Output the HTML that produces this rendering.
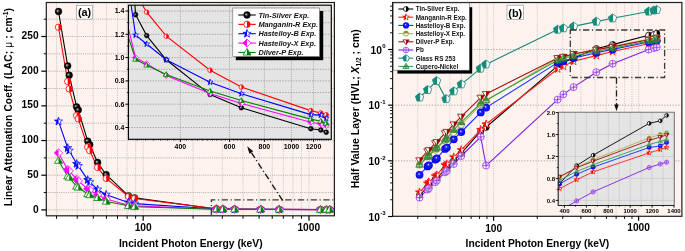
<!DOCTYPE html>
<html><head><meta charset="utf-8"><style>
html,body{margin:0;padding:0;background:#fff;}
svg{display:block;font-family:"Liberation Sans", sans-serif;will-change:transform;}
</style></head><body>
<svg width="685" height="251" viewBox="0 0 685 251">
<rect width="685" height="251" fill="#fff"/>
<defs>
<radialGradient id="gblk" cx="0.5" cy="0.5" r="0.5" fx="0.33" fy="0.38"><stop offset="0" stop-color="#e6e6e6"/><stop offset="0.3" stop-color="#505050"/><stop offset="0.6" stop-color="#080808"/><stop offset="1" stop-color="#000"/></radialGradient>
<radialGradient id="gblu" cx="0.5" cy="0.5" r="0.5" fx="0.42" fy="0.38"><stop offset="0" stop-color="#f0f0ff"/><stop offset="0.3" stop-color="#2828ff"/><stop offset="1" stop-color="#0000e8"/></radialGradient>
<clipPath id="cL"><rect x="46.3" y="2.4" width="288.1" height="212.9"/></clipPath>
<clipPath id="cLI"><rect x="128.4" y="5.2" width="202.9" height="134.1"/></clipPath>
<clipPath id="cR"><rect x="392.6" y="2.2" width="289.3" height="214.4"/></clipPath>
<clipPath id="cRI"><rect x="558.2" y="112.2" width="116.1" height="93.3"/></clipPath>
</defs>
<rect x="46.3" y="2.5" width="288.09999999999997" height="213.3" fill="#fdf2ed"/>
<line x1="56.51" y1="2.5" x2="56.51" y2="215.8" stroke="#c0c0c0" stroke-width="0.9" stroke-dasharray="1 1.15"/>
<line x1="77.22" y1="2.5" x2="77.22" y2="215.8" stroke="#c0c0c0" stroke-width="0.9" stroke-dasharray="1 1.15"/>
<line x1="93.29" y1="2.5" x2="93.29" y2="215.8" stroke="#c0c0c0" stroke-width="0.9" stroke-dasharray="1 1.15"/>
<line x1="106.42" y1="2.5" x2="106.42" y2="215.8" stroke="#c0c0c0" stroke-width="0.9" stroke-dasharray="1 1.15"/>
<line x1="117.52" y1="2.5" x2="117.52" y2="215.8" stroke="#c0c0c0" stroke-width="0.9" stroke-dasharray="1 1.15"/>
<line x1="127.13" y1="2.5" x2="127.13" y2="215.8" stroke="#c0c0c0" stroke-width="0.9" stroke-dasharray="1 1.15"/>
<line x1="135.61" y1="2.5" x2="135.61" y2="215.8" stroke="#c0c0c0" stroke-width="0.9" stroke-dasharray="1 1.15"/>
<line x1="143.2" y1="2.5" x2="143.2" y2="215.8" stroke="#c0c0c0" stroke-width="0.9" stroke-dasharray="1 1.15"/>
<line x1="193.11" y1="2.5" x2="193.11" y2="215.8" stroke="#c0c0c0" stroke-width="0.9" stroke-dasharray="1 1.15"/>
<line x1="222.31" y1="2.5" x2="222.31" y2="215.8" stroke="#c0c0c0" stroke-width="0.9" stroke-dasharray="1 1.15"/>
<line x1="243.02" y1="2.5" x2="243.02" y2="215.8" stroke="#c0c0c0" stroke-width="0.9" stroke-dasharray="1 1.15"/>
<line x1="259.09" y1="2.5" x2="259.09" y2="215.8" stroke="#c0c0c0" stroke-width="0.9" stroke-dasharray="1 1.15"/>
<line x1="272.22" y1="2.5" x2="272.22" y2="215.8" stroke="#c0c0c0" stroke-width="0.9" stroke-dasharray="1 1.15"/>
<line x1="283.32" y1="2.5" x2="283.32" y2="215.8" stroke="#c0c0c0" stroke-width="0.9" stroke-dasharray="1 1.15"/>
<line x1="292.93" y1="2.5" x2="292.93" y2="215.8" stroke="#c0c0c0" stroke-width="0.9" stroke-dasharray="1 1.15"/>
<line x1="301.41" y1="2.5" x2="301.41" y2="215.8" stroke="#c0c0c0" stroke-width="0.9" stroke-dasharray="1 1.15"/>
<line x1="309" y1="2.5" x2="309" y2="215.8" stroke="#c0c0c0" stroke-width="0.9" stroke-dasharray="1 1.15"/>
<line x1="46.3" y1="209.9" x2="334.4" y2="209.9" stroke="#a8a8a8" stroke-width="0.9" stroke-dasharray="1 1.15"/>
<line x1="46.3" y1="192.56" x2="334.4" y2="192.56" stroke="#a8a8a8" stroke-width="0.9" stroke-dasharray="1 1.15"/>
<line x1="46.3" y1="175.22" x2="334.4" y2="175.22" stroke="#a8a8a8" stroke-width="0.9" stroke-dasharray="1 1.15"/>
<line x1="46.3" y1="157.88" x2="334.4" y2="157.88" stroke="#a8a8a8" stroke-width="0.9" stroke-dasharray="1 1.15"/>
<line x1="46.3" y1="140.54" x2="334.4" y2="140.54" stroke="#a8a8a8" stroke-width="0.9" stroke-dasharray="1 1.15"/>
<line x1="46.3" y1="123.2" x2="334.4" y2="123.2" stroke="#a8a8a8" stroke-width="0.9" stroke-dasharray="1 1.15"/>
<line x1="46.3" y1="105.86" x2="334.4" y2="105.86" stroke="#a8a8a8" stroke-width="0.9" stroke-dasharray="1 1.15"/>
<line x1="46.3" y1="88.52" x2="334.4" y2="88.52" stroke="#a8a8a8" stroke-width="0.9" stroke-dasharray="1 1.15"/>
<line x1="46.3" y1="71.18" x2="334.4" y2="71.18" stroke="#a8a8a8" stroke-width="0.9" stroke-dasharray="1 1.15"/>
<line x1="46.3" y1="53.84" x2="334.4" y2="53.84" stroke="#a8a8a8" stroke-width="0.9" stroke-dasharray="1 1.15"/>
<line x1="46.3" y1="36.5" x2="334.4" y2="36.5" stroke="#a8a8a8" stroke-width="0.9" stroke-dasharray="1 1.15"/>
<line x1="46.3" y1="19.16" x2="334.4" y2="19.16" stroke="#a8a8a8" stroke-width="0.9" stroke-dasharray="1 1.15"/>
<g clip-path="url(#cL)">
<polyline fill="none" stroke="#000" stroke-width="1.1"  points="58.5,11.5 67.7,65.8 69.2,75.2 76.6,106.8 78.3,110 87.7,141.1 89.7,144.7 97.6,162.5 106.2,174.7 128.5,195.8 134.6,197.9 216.41,208.95 222.99,209.08 234.63,209.22 260.66,209.43 279.26,209.51 320.5,209.63 326.47,209.64 329.67,209.65"/>
<polyline fill="none" stroke="#ff0000" stroke-width="1.1"  points="58.5,27.2 67.7,81.5 69.2,88.9 76.6,115.5 78.3,118.9 87.7,147 89.7,150.6 97.6,167.4 106.2,178.4 128.5,196.5 134.6,198.5 216.41,208.82 222.99,208.94 234.63,209.08 260.66,209.28 279.26,209.38 320.5,209.52 326.47,209.54 329.67,209.55"/>
<polyline fill="none" stroke="#0000ff" stroke-width="1.1"  points="58.5,121.4 67.7,148 69.2,150.6 76.6,163.8 78.3,165.9 87.7,179.9 89.7,182.1 97.6,189.5 106.2,194.7 128.5,202.4 134.6,203.6 216.41,209.07 222.99,209.13 234.63,209.22 260.66,209.35 279.26,209.42 320.5,209.55 326.47,209.55 329.67,209.57"/>
<polyline fill="none" stroke="#ff00ff" stroke-width="1.1"  points="58.5,152.9 67.7,169.6 69.2,171 76.6,179.2 78.3,181 87.7,188.8 89.7,190 97.6,195 106.2,199 128.5,205.2 134.6,205.9 216.41,209.21 222.99,209.24 234.63,209.31 260.66,209.42 279.26,209.48 320.5,209.59 326.47,209.6 329.67,209.61"/>
<polyline fill="none" stroke="#008000" stroke-width="1.1"  points="58.5,160.7 67.7,176.2 69.2,177.5 76.6,186.5 78.3,187.5 87.7,194 89.7,195 97.6,197.9 106.2,201.5 128.5,205.8 134.6,206.7 216.41,209.22 222.99,209.25 234.63,209.31 260.66,209.41 279.26,209.46 320.5,209.57 326.47,209.59 329.67,209.6"/>
<circle cx="58.5" cy="11.5" r="3.4" fill="url(#gblk)" stroke="#000" stroke-width="0.4"/>
<circle cx="67.7" cy="65.8" r="3.4" fill="url(#gblk)" stroke="#000" stroke-width="0.4"/>
<circle cx="69.2" cy="75.2" r="3.4" fill="url(#gblk)" stroke="#000" stroke-width="0.4"/>
<circle cx="76.6" cy="106.8" r="3.4" fill="url(#gblk)" stroke="#000" stroke-width="0.4"/>
<circle cx="78.3" cy="110" r="3.4" fill="url(#gblk)" stroke="#000" stroke-width="0.4"/>
<circle cx="87.7" cy="141.1" r="3.4" fill="url(#gblk)" stroke="#000" stroke-width="0.4"/>
<circle cx="89.7" cy="144.7" r="3.4" fill="url(#gblk)" stroke="#000" stroke-width="0.4"/>
<circle cx="97.6" cy="162.5" r="3.4" fill="url(#gblk)" stroke="#000" stroke-width="0.4"/>
<circle cx="106.2" cy="174.7" r="3.4" fill="url(#gblk)" stroke="#000" stroke-width="0.4"/>
<circle cx="128.5" cy="195.8" r="3.4" fill="url(#gblk)" stroke="#000" stroke-width="0.4"/>
<circle cx="134.6" cy="197.9" r="3.4" fill="url(#gblk)" stroke="#000" stroke-width="0.4"/>
<circle cx="216.41" cy="208.95" r="3.4" fill="url(#gblk)" stroke="#000" stroke-width="0.4"/>
<circle cx="222.99" cy="209.08" r="3.4" fill="url(#gblk)" stroke="#000" stroke-width="0.4"/>
<circle cx="234.63" cy="209.22" r="3.4" fill="url(#gblk)" stroke="#000" stroke-width="0.4"/>
<circle cx="260.66" cy="209.43" r="3.4" fill="url(#gblk)" stroke="#000" stroke-width="0.4"/>
<circle cx="279.26" cy="209.51" r="3.4" fill="url(#gblk)" stroke="#000" stroke-width="0.4"/>
<circle cx="320.5" cy="209.63" r="3.4" fill="url(#gblk)" stroke="#000" stroke-width="0.4"/>
<circle cx="326.47" cy="209.64" r="3.4" fill="url(#gblk)" stroke="#000" stroke-width="0.4"/>
<circle cx="329.67" cy="209.65" r="3.4" fill="url(#gblk)" stroke="#000" stroke-width="0.4"/>
<circle cx="58.5" cy="27.2" r="3.2" fill="#fff"/>
<path d="M58.5,24 A3.2,3.2 0 0 1 58.5,30.4 Z" fill="#ff0000"/>
<circle cx="58.5" cy="27.2" r="3.2" fill="none" stroke="#ff0000" stroke-width="0.8"/>
<circle cx="67.7" cy="81.5" r="3.2" fill="#fff"/>
<path d="M67.7,78.3 A3.2,3.2 0 0 1 67.7,84.7 Z" fill="#ff0000"/>
<circle cx="67.7" cy="81.5" r="3.2" fill="none" stroke="#ff0000" stroke-width="0.8"/>
<circle cx="69.2" cy="88.9" r="3.2" fill="#fff"/>
<path d="M69.2,85.7 A3.2,3.2 0 0 1 69.2,92.1 Z" fill="#ff0000"/>
<circle cx="69.2" cy="88.9" r="3.2" fill="none" stroke="#ff0000" stroke-width="0.8"/>
<circle cx="76.6" cy="115.5" r="3.2" fill="#fff"/>
<path d="M76.6,112.3 A3.2,3.2 0 0 1 76.6,118.7 Z" fill="#ff0000"/>
<circle cx="76.6" cy="115.5" r="3.2" fill="none" stroke="#ff0000" stroke-width="0.8"/>
<circle cx="78.3" cy="118.9" r="3.2" fill="#fff"/>
<path d="M78.3,115.7 A3.2,3.2 0 0 1 78.3,122.1 Z" fill="#ff0000"/>
<circle cx="78.3" cy="118.9" r="3.2" fill="none" stroke="#ff0000" stroke-width="0.8"/>
<circle cx="87.7" cy="147" r="3.2" fill="#fff"/>
<path d="M87.7,143.8 A3.2,3.2 0 0 1 87.7,150.2 Z" fill="#ff0000"/>
<circle cx="87.7" cy="147" r="3.2" fill="none" stroke="#ff0000" stroke-width="0.8"/>
<circle cx="89.7" cy="150.6" r="3.2" fill="#fff"/>
<path d="M89.7,147.4 A3.2,3.2 0 0 1 89.7,153.8 Z" fill="#ff0000"/>
<circle cx="89.7" cy="150.6" r="3.2" fill="none" stroke="#ff0000" stroke-width="0.8"/>
<circle cx="97.6" cy="167.4" r="3.2" fill="#fff"/>
<path d="M97.6,164.2 A3.2,3.2 0 0 1 97.6,170.6 Z" fill="#ff0000"/>
<circle cx="97.6" cy="167.4" r="3.2" fill="none" stroke="#ff0000" stroke-width="0.8"/>
<circle cx="106.2" cy="178.4" r="3.2" fill="#fff"/>
<path d="M106.2,175.2 A3.2,3.2 0 0 1 106.2,181.6 Z" fill="#ff0000"/>
<circle cx="106.2" cy="178.4" r="3.2" fill="none" stroke="#ff0000" stroke-width="0.8"/>
<circle cx="128.5" cy="196.5" r="3.2" fill="#fff"/>
<path d="M128.5,193.3 A3.2,3.2 0 0 1 128.5,199.7 Z" fill="#ff0000"/>
<circle cx="128.5" cy="196.5" r="3.2" fill="none" stroke="#ff0000" stroke-width="0.8"/>
<circle cx="134.6" cy="198.5" r="3.2" fill="#fff"/>
<path d="M134.6,195.3 A3.2,3.2 0 0 1 134.6,201.7 Z" fill="#ff0000"/>
<circle cx="134.6" cy="198.5" r="3.2" fill="none" stroke="#ff0000" stroke-width="0.8"/>
<circle cx="216.41" cy="208.82" r="3.2" fill="#fff"/>
<path d="M216.41,205.62 A3.2,3.2 0 0 1 216.41,212.02 Z" fill="#ff0000"/>
<circle cx="216.41" cy="208.82" r="3.2" fill="none" stroke="#ff0000" stroke-width="0.8"/>
<circle cx="222.99" cy="208.94" r="3.2" fill="#fff"/>
<path d="M222.99,205.74 A3.2,3.2 0 0 1 222.99,212.14 Z" fill="#ff0000"/>
<circle cx="222.99" cy="208.94" r="3.2" fill="none" stroke="#ff0000" stroke-width="0.8"/>
<circle cx="234.63" cy="209.08" r="3.2" fill="#fff"/>
<path d="M234.63,205.88 A3.2,3.2 0 0 1 234.63,212.28 Z" fill="#ff0000"/>
<circle cx="234.63" cy="209.08" r="3.2" fill="none" stroke="#ff0000" stroke-width="0.8"/>
<circle cx="260.66" cy="209.28" r="3.2" fill="#fff"/>
<path d="M260.66,206.08 A3.2,3.2 0 0 1 260.66,212.48 Z" fill="#ff0000"/>
<circle cx="260.66" cy="209.28" r="3.2" fill="none" stroke="#ff0000" stroke-width="0.8"/>
<circle cx="279.26" cy="209.38" r="3.2" fill="#fff"/>
<path d="M279.26,206.18 A3.2,3.2 0 0 1 279.26,212.58 Z" fill="#ff0000"/>
<circle cx="279.26" cy="209.38" r="3.2" fill="none" stroke="#ff0000" stroke-width="0.8"/>
<circle cx="320.5" cy="209.52" r="3.2" fill="#fff"/>
<path d="M320.5,206.32 A3.2,3.2 0 0 1 320.5,212.72 Z" fill="#ff0000"/>
<circle cx="320.5" cy="209.52" r="3.2" fill="none" stroke="#ff0000" stroke-width="0.8"/>
<circle cx="326.47" cy="209.54" r="3.2" fill="#fff"/>
<path d="M326.47,206.34 A3.2,3.2 0 0 1 326.47,212.74 Z" fill="#ff0000"/>
<circle cx="326.47" cy="209.54" r="3.2" fill="none" stroke="#ff0000" stroke-width="0.8"/>
<circle cx="329.67" cy="209.55" r="3.2" fill="#fff"/>
<path d="M329.67,206.35 A3.2,3.2 0 0 1 329.67,212.75 Z" fill="#ff0000"/>
<circle cx="329.67" cy="209.55" r="3.2" fill="none" stroke="#ff0000" stroke-width="0.8"/>
<polygon points="58.5,117.1 59.56,119.94 62.59,120.07 60.21,121.96 61.03,124.88 58.5,123.2 55.97,124.88 56.79,121.96 54.41,120.07 57.44,119.94" fill="#fff"/>
<polygon points="58.5,123.2 55.97,124.88 56.79,121.96 54.41,120.07 57.44,119.94 58.5,117.1" fill="#0000ff"/>
<polygon points="58.5,117.1 59.56,119.94 62.59,120.07 60.21,121.96 61.03,124.88 58.5,123.2 55.97,124.88 56.79,121.96 54.41,120.07 57.44,119.94" fill="none" stroke="#0000ff" stroke-width="0.7"/>
<polygon points="67.7,143.7 68.76,146.54 71.79,146.67 69.41,148.56 70.23,151.48 67.7,149.8 65.17,151.48 65.99,148.56 63.61,146.67 66.64,146.54" fill="#fff"/>
<polygon points="67.7,149.8 65.17,151.48 65.99,148.56 63.61,146.67 66.64,146.54 67.7,143.7" fill="#0000ff"/>
<polygon points="67.7,143.7 68.76,146.54 71.79,146.67 69.41,148.56 70.23,151.48 67.7,149.8 65.17,151.48 65.99,148.56 63.61,146.67 66.64,146.54" fill="none" stroke="#0000ff" stroke-width="0.7"/>
<polygon points="69.2,146.3 70.26,149.14 73.29,149.27 70.91,151.16 71.73,154.08 69.2,152.4 66.67,154.08 67.49,151.16 65.11,149.27 68.14,149.14" fill="#fff"/>
<polygon points="69.2,152.4 66.67,154.08 67.49,151.16 65.11,149.27 68.14,149.14 69.2,146.3" fill="#0000ff"/>
<polygon points="69.2,146.3 70.26,149.14 73.29,149.27 70.91,151.16 71.73,154.08 69.2,152.4 66.67,154.08 67.49,151.16 65.11,149.27 68.14,149.14" fill="none" stroke="#0000ff" stroke-width="0.7"/>
<polygon points="76.6,159.5 77.66,162.34 80.69,162.47 78.31,164.36 79.13,167.28 76.6,165.6 74.07,167.28 74.89,164.36 72.51,162.47 75.54,162.34" fill="#fff"/>
<polygon points="76.6,165.6 74.07,167.28 74.89,164.36 72.51,162.47 75.54,162.34 76.6,159.5" fill="#0000ff"/>
<polygon points="76.6,159.5 77.66,162.34 80.69,162.47 78.31,164.36 79.13,167.28 76.6,165.6 74.07,167.28 74.89,164.36 72.51,162.47 75.54,162.34" fill="none" stroke="#0000ff" stroke-width="0.7"/>
<polygon points="78.3,161.6 79.36,164.44 82.39,164.57 80.01,166.46 80.83,169.38 78.3,167.7 75.77,169.38 76.59,166.46 74.21,164.57 77.24,164.44" fill="#fff"/>
<polygon points="78.3,167.7 75.77,169.38 76.59,166.46 74.21,164.57 77.24,164.44 78.3,161.6" fill="#0000ff"/>
<polygon points="78.3,161.6 79.36,164.44 82.39,164.57 80.01,166.46 80.83,169.38 78.3,167.7 75.77,169.38 76.59,166.46 74.21,164.57 77.24,164.44" fill="none" stroke="#0000ff" stroke-width="0.7"/>
<polygon points="87.7,175.6 88.76,178.44 91.79,178.57 89.41,180.46 90.23,183.38 87.7,181.7 85.17,183.38 85.99,180.46 83.61,178.57 86.64,178.44" fill="#fff"/>
<polygon points="87.7,181.7 85.17,183.38 85.99,180.46 83.61,178.57 86.64,178.44 87.7,175.6" fill="#0000ff"/>
<polygon points="87.7,175.6 88.76,178.44 91.79,178.57 89.41,180.46 90.23,183.38 87.7,181.7 85.17,183.38 85.99,180.46 83.61,178.57 86.64,178.44" fill="none" stroke="#0000ff" stroke-width="0.7"/>
<polygon points="89.7,177.8 90.76,180.64 93.79,180.77 91.41,182.66 92.23,185.58 89.7,183.9 87.17,185.58 87.99,182.66 85.61,180.77 88.64,180.64" fill="#fff"/>
<polygon points="89.7,183.9 87.17,185.58 87.99,182.66 85.61,180.77 88.64,180.64 89.7,177.8" fill="#0000ff"/>
<polygon points="89.7,177.8 90.76,180.64 93.79,180.77 91.41,182.66 92.23,185.58 89.7,183.9 87.17,185.58 87.99,182.66 85.61,180.77 88.64,180.64" fill="none" stroke="#0000ff" stroke-width="0.7"/>
<polygon points="97.6,185.2 98.66,188.04 101.69,188.17 99.31,190.06 100.13,192.98 97.6,191.3 95.07,192.98 95.89,190.06 93.51,188.17 96.54,188.04" fill="#fff"/>
<polygon points="97.6,191.3 95.07,192.98 95.89,190.06 93.51,188.17 96.54,188.04 97.6,185.2" fill="#0000ff"/>
<polygon points="97.6,185.2 98.66,188.04 101.69,188.17 99.31,190.06 100.13,192.98 97.6,191.3 95.07,192.98 95.89,190.06 93.51,188.17 96.54,188.04" fill="none" stroke="#0000ff" stroke-width="0.7"/>
<polygon points="106.2,190.4 107.26,193.24 110.29,193.37 107.91,195.26 108.73,198.18 106.2,196.5 103.67,198.18 104.49,195.26 102.11,193.37 105.14,193.24" fill="#fff"/>
<polygon points="106.2,196.5 103.67,198.18 104.49,195.26 102.11,193.37 105.14,193.24 106.2,190.4" fill="#0000ff"/>
<polygon points="106.2,190.4 107.26,193.24 110.29,193.37 107.91,195.26 108.73,198.18 106.2,196.5 103.67,198.18 104.49,195.26 102.11,193.37 105.14,193.24" fill="none" stroke="#0000ff" stroke-width="0.7"/>
<polygon points="128.5,198.1 129.56,200.94 132.59,201.07 130.21,202.96 131.03,205.88 128.5,204.2 125.97,205.88 126.79,202.96 124.41,201.07 127.44,200.94" fill="#fff"/>
<polygon points="128.5,204.2 125.97,205.88 126.79,202.96 124.41,201.07 127.44,200.94 128.5,198.1" fill="#0000ff"/>
<polygon points="128.5,198.1 129.56,200.94 132.59,201.07 130.21,202.96 131.03,205.88 128.5,204.2 125.97,205.88 126.79,202.96 124.41,201.07 127.44,200.94" fill="none" stroke="#0000ff" stroke-width="0.7"/>
<polygon points="134.6,199.3 135.66,202.14 138.69,202.27 136.31,204.16 137.13,207.08 134.6,205.4 132.07,207.08 132.89,204.16 130.51,202.27 133.54,202.14" fill="#fff"/>
<polygon points="134.6,205.4 132.07,207.08 132.89,204.16 130.51,202.27 133.54,202.14 134.6,199.3" fill="#0000ff"/>
<polygon points="134.6,199.3 135.66,202.14 138.69,202.27 136.31,204.16 137.13,207.08 134.6,205.4 132.07,207.08 132.89,204.16 130.51,202.27 133.54,202.14" fill="none" stroke="#0000ff" stroke-width="0.7"/>
<polygon points="216.41,204.77 217.47,207.62 220.5,207.74 218.12,209.63 218.93,212.55 216.41,210.87 213.88,212.55 214.7,209.63 212.32,207.74 215.35,207.62" fill="#fff"/>
<polygon points="216.41,210.87 213.88,212.55 214.7,209.63 212.32,207.74 215.35,207.62 216.41,204.77" fill="#0000ff"/>
<polygon points="216.41,204.77 217.47,207.62 220.5,207.74 218.12,209.63 218.93,212.55 216.41,210.87 213.88,212.55 214.7,209.63 212.32,207.74 215.35,207.62" fill="none" stroke="#0000ff" stroke-width="0.7"/>
<polygon points="222.99,204.83 224.05,207.67 227.08,207.8 224.7,209.68 225.52,212.6 222.99,210.93 220.46,212.6 221.28,209.68 218.9,207.8 221.93,207.67" fill="#fff"/>
<polygon points="222.99,210.93 220.46,212.6 221.28,209.68 218.9,207.8 221.93,207.67 222.99,204.83" fill="#0000ff"/>
<polygon points="222.99,204.83 224.05,207.67 227.08,207.8 224.7,209.68 225.52,212.6 222.99,210.93 220.46,212.6 221.28,209.68 218.9,207.8 221.93,207.67" fill="none" stroke="#0000ff" stroke-width="0.7"/>
<polygon points="234.63,204.92 235.69,207.76 238.72,207.89 236.34,209.78 237.16,212.7 234.63,211.02 232.1,212.7 232.92,209.78 230.54,207.89 233.57,207.76" fill="#fff"/>
<polygon points="234.63,211.02 232.1,212.7 232.92,209.78 230.54,207.89 233.57,207.76 234.63,204.92" fill="#0000ff"/>
<polygon points="234.63,204.92 235.69,207.76 238.72,207.89 236.34,209.78 237.16,212.7 234.63,211.02 232.1,212.7 232.92,209.78 230.54,207.89 233.57,207.76" fill="none" stroke="#0000ff" stroke-width="0.7"/>
<polygon points="260.66,205.05 261.71,207.9 264.75,208.02 262.37,209.91 263.18,212.83 260.66,211.15 258.13,212.83 258.94,209.91 256.57,208.02 259.6,207.9" fill="#fff"/>
<polygon points="260.66,211.15 258.13,212.83 258.94,209.91 256.57,208.02 259.6,207.9 260.66,205.05" fill="#0000ff"/>
<polygon points="260.66,205.05 261.71,207.9 264.75,208.02 262.37,209.91 263.18,212.83 260.66,211.15 258.13,212.83 258.94,209.91 256.57,208.02 259.6,207.9" fill="none" stroke="#0000ff" stroke-width="0.7"/>
<polygon points="279.26,205.12 280.32,207.97 283.35,208.09 280.97,209.98 281.79,212.9 279.26,211.22 276.73,212.9 277.55,209.98 275.17,208.09 278.2,207.97" fill="#fff"/>
<polygon points="279.26,211.22 276.73,212.9 277.55,209.98 275.17,208.09 278.2,207.97 279.26,205.12" fill="#0000ff"/>
<polygon points="279.26,205.12 280.32,207.97 283.35,208.09 280.97,209.98 281.79,212.9 279.26,211.22 276.73,212.9 277.55,209.98 275.17,208.09 278.2,207.97" fill="none" stroke="#0000ff" stroke-width="0.7"/>
<polygon points="320.5,205.25 321.56,208.09 324.59,208.22 322.21,210.1 323.03,213.02 320.5,211.35 317.97,213.02 318.79,210.1 316.41,208.22 319.44,208.09" fill="#fff"/>
<polygon points="320.5,211.35 317.97,213.02 318.79,210.1 316.41,208.22 319.44,208.09 320.5,205.25" fill="#0000ff"/>
<polygon points="320.5,205.25 321.56,208.09 324.59,208.22 322.21,210.1 323.03,213.02 320.5,211.35 317.97,213.02 318.79,210.1 316.41,208.22 319.44,208.09" fill="none" stroke="#0000ff" stroke-width="0.7"/>
<polygon points="326.47,205.25 327.52,208.09 330.55,208.22 328.18,210.1 328.99,213.03 326.47,211.35 323.94,213.03 324.75,210.1 322.38,208.22 325.41,208.09" fill="#fff"/>
<polygon points="326.47,211.35 323.94,213.03 324.75,210.1 322.38,208.22 325.41,208.09 326.47,205.25" fill="#0000ff"/>
<polygon points="326.47,205.25 327.52,208.09 330.55,208.22 328.18,210.1 328.99,213.03 326.47,211.35 323.94,213.03 324.75,210.1 322.38,208.22 325.41,208.09" fill="none" stroke="#0000ff" stroke-width="0.7"/>
<polygon points="329.67,205.27 330.73,208.11 333.76,208.24 331.38,210.12 332.2,213.05 329.67,211.37 327.14,213.05 327.96,210.12 325.58,208.24 328.61,208.11" fill="#fff"/>
<polygon points="329.67,211.37 327.14,213.05 327.96,210.12 325.58,208.24 328.61,208.11 329.67,205.27" fill="#0000ff"/>
<polygon points="329.67,205.27 330.73,208.11 333.76,208.24 331.38,210.12 332.2,213.05 329.67,211.37 327.14,213.05 327.96,210.12 325.58,208.24 328.61,208.11" fill="none" stroke="#0000ff" stroke-width="0.7"/>
<polygon points="58.5,148.9 62.7,152.9 58.5,156.9 54.3,152.9" fill="#fff"/>
<polygon points="58.5,148.9 58.5,156.9 54.3,152.9" fill="#ff00ff"/>
<polygon points="58.5,148.9 62.7,152.9 58.5,156.9 54.3,152.9" fill="none" stroke="#ff00ff" stroke-width="0.8"/>
<polygon points="67.7,165.6 71.9,169.6 67.7,173.6 63.5,169.6" fill="#fff"/>
<polygon points="67.7,165.6 67.7,173.6 63.5,169.6" fill="#ff00ff"/>
<polygon points="67.7,165.6 71.9,169.6 67.7,173.6 63.5,169.6" fill="none" stroke="#ff00ff" stroke-width="0.8"/>
<polygon points="69.2,167 73.4,171 69.2,175 65,171" fill="#fff"/>
<polygon points="69.2,167 69.2,175 65,171" fill="#ff00ff"/>
<polygon points="69.2,167 73.4,171 69.2,175 65,171" fill="none" stroke="#ff00ff" stroke-width="0.8"/>
<polygon points="76.6,175.2 80.8,179.2 76.6,183.2 72.4,179.2" fill="#fff"/>
<polygon points="76.6,175.2 76.6,183.2 72.4,179.2" fill="#ff00ff"/>
<polygon points="76.6,175.2 80.8,179.2 76.6,183.2 72.4,179.2" fill="none" stroke="#ff00ff" stroke-width="0.8"/>
<polygon points="78.3,177 82.5,181 78.3,185 74.1,181" fill="#fff"/>
<polygon points="78.3,177 78.3,185 74.1,181" fill="#ff00ff"/>
<polygon points="78.3,177 82.5,181 78.3,185 74.1,181" fill="none" stroke="#ff00ff" stroke-width="0.8"/>
<polygon points="87.7,184.8 91.9,188.8 87.7,192.8 83.5,188.8" fill="#fff"/>
<polygon points="87.7,184.8 87.7,192.8 83.5,188.8" fill="#ff00ff"/>
<polygon points="87.7,184.8 91.9,188.8 87.7,192.8 83.5,188.8" fill="none" stroke="#ff00ff" stroke-width="0.8"/>
<polygon points="89.7,186 93.9,190 89.7,194 85.5,190" fill="#fff"/>
<polygon points="89.7,186 89.7,194 85.5,190" fill="#ff00ff"/>
<polygon points="89.7,186 93.9,190 89.7,194 85.5,190" fill="none" stroke="#ff00ff" stroke-width="0.8"/>
<polygon points="97.6,191 101.8,195 97.6,199 93.4,195" fill="#fff"/>
<polygon points="97.6,191 97.6,199 93.4,195" fill="#ff00ff"/>
<polygon points="97.6,191 101.8,195 97.6,199 93.4,195" fill="none" stroke="#ff00ff" stroke-width="0.8"/>
<polygon points="106.2,195 110.4,199 106.2,203 102,199" fill="#fff"/>
<polygon points="106.2,195 106.2,203 102,199" fill="#ff00ff"/>
<polygon points="106.2,195 110.4,199 106.2,203 102,199" fill="none" stroke="#ff00ff" stroke-width="0.8"/>
<polygon points="128.5,201.2 132.7,205.2 128.5,209.2 124.3,205.2" fill="#fff"/>
<polygon points="128.5,201.2 128.5,209.2 124.3,205.2" fill="#ff00ff"/>
<polygon points="128.5,201.2 132.7,205.2 128.5,209.2 124.3,205.2" fill="none" stroke="#ff00ff" stroke-width="0.8"/>
<polygon points="134.6,201.9 138.8,205.9 134.6,209.9 130.4,205.9" fill="#fff"/>
<polygon points="134.6,201.9 134.6,209.9 130.4,205.9" fill="#ff00ff"/>
<polygon points="134.6,201.9 138.8,205.9 134.6,209.9 130.4,205.9" fill="none" stroke="#ff00ff" stroke-width="0.8"/>
<polygon points="216.41,205.21 220.61,209.21 216.41,213.21 212.21,209.21" fill="#fff"/>
<polygon points="216.41,205.21 216.41,213.21 212.21,209.21" fill="#ff00ff"/>
<polygon points="216.41,205.21 220.61,209.21 216.41,213.21 212.21,209.21" fill="none" stroke="#ff00ff" stroke-width="0.8"/>
<polygon points="222.99,205.24 227.19,209.24 222.99,213.24 218.79,209.24" fill="#fff"/>
<polygon points="222.99,205.24 222.99,213.24 218.79,209.24" fill="#ff00ff"/>
<polygon points="222.99,205.24 227.19,209.24 222.99,213.24 218.79,209.24" fill="none" stroke="#ff00ff" stroke-width="0.8"/>
<polygon points="234.63,205.31 238.83,209.31 234.63,213.31 230.43,209.31" fill="#fff"/>
<polygon points="234.63,205.31 234.63,213.31 230.43,209.31" fill="#ff00ff"/>
<polygon points="234.63,205.31 238.83,209.31 234.63,213.31 230.43,209.31" fill="none" stroke="#ff00ff" stroke-width="0.8"/>
<polygon points="260.66,205.42 264.86,209.42 260.66,213.42 256.46,209.42" fill="#fff"/>
<polygon points="260.66,205.42 260.66,213.42 256.46,209.42" fill="#ff00ff"/>
<polygon points="260.66,205.42 264.86,209.42 260.66,213.42 256.46,209.42" fill="none" stroke="#ff00ff" stroke-width="0.8"/>
<polygon points="279.26,205.48 283.46,209.48 279.26,213.48 275.06,209.48" fill="#fff"/>
<polygon points="279.26,205.48 279.26,213.48 275.06,209.48" fill="#ff00ff"/>
<polygon points="279.26,205.48 283.46,209.48 279.26,213.48 275.06,209.48" fill="none" stroke="#ff00ff" stroke-width="0.8"/>
<polygon points="320.5,205.59 324.7,209.59 320.5,213.59 316.3,209.59" fill="#fff"/>
<polygon points="320.5,205.59 320.5,213.59 316.3,209.59" fill="#ff00ff"/>
<polygon points="320.5,205.59 324.7,209.59 320.5,213.59 316.3,209.59" fill="none" stroke="#ff00ff" stroke-width="0.8"/>
<polygon points="326.47,205.6 330.67,209.6 326.47,213.6 322.27,209.6" fill="#fff"/>
<polygon points="326.47,205.6 326.47,213.6 322.27,209.6" fill="#ff00ff"/>
<polygon points="326.47,205.6 330.67,209.6 326.47,213.6 322.27,209.6" fill="none" stroke="#ff00ff" stroke-width="0.8"/>
<polygon points="329.67,205.61 333.87,209.61 329.67,213.61 325.47,209.61" fill="#fff"/>
<polygon points="329.67,205.61 329.67,213.61 325.47,209.61" fill="#ff00ff"/>
<polygon points="329.67,205.61 333.87,209.61 329.67,213.61 325.47,209.61" fill="none" stroke="#ff00ff" stroke-width="0.8"/>
<polygon points="58.5,156.74 62.5,163.34 54.5,163.34" fill="#fff"/>
<polygon points="58.5,156.74 62.5,163.34 58.5,163.34" fill="#008000"/>
<polygon points="58.5,156.74 62.5,163.34 54.5,163.34" fill="none" stroke="#008000" stroke-width="0.8" stroke-linejoin="miter"/>
<polygon points="67.7,172.24 71.7,178.84 63.7,178.84" fill="#fff"/>
<polygon points="67.7,172.24 71.7,178.84 67.7,178.84" fill="#008000"/>
<polygon points="67.7,172.24 71.7,178.84 63.7,178.84" fill="none" stroke="#008000" stroke-width="0.8" stroke-linejoin="miter"/>
<polygon points="69.2,173.54 73.2,180.14 65.2,180.14" fill="#fff"/>
<polygon points="69.2,173.54 73.2,180.14 69.2,180.14" fill="#008000"/>
<polygon points="69.2,173.54 73.2,180.14 65.2,180.14" fill="none" stroke="#008000" stroke-width="0.8" stroke-linejoin="miter"/>
<polygon points="76.6,182.54 80.6,189.14 72.6,189.14" fill="#fff"/>
<polygon points="76.6,182.54 80.6,189.14 76.6,189.14" fill="#008000"/>
<polygon points="76.6,182.54 80.6,189.14 72.6,189.14" fill="none" stroke="#008000" stroke-width="0.8" stroke-linejoin="miter"/>
<polygon points="78.3,183.54 82.3,190.14 74.3,190.14" fill="#fff"/>
<polygon points="78.3,183.54 82.3,190.14 78.3,190.14" fill="#008000"/>
<polygon points="78.3,183.54 82.3,190.14 74.3,190.14" fill="none" stroke="#008000" stroke-width="0.8" stroke-linejoin="miter"/>
<polygon points="87.7,190.04 91.7,196.64 83.7,196.64" fill="#fff"/>
<polygon points="87.7,190.04 91.7,196.64 87.7,196.64" fill="#008000"/>
<polygon points="87.7,190.04 91.7,196.64 83.7,196.64" fill="none" stroke="#008000" stroke-width="0.8" stroke-linejoin="miter"/>
<polygon points="89.7,191.04 93.7,197.64 85.7,197.64" fill="#fff"/>
<polygon points="89.7,191.04 93.7,197.64 89.7,197.64" fill="#008000"/>
<polygon points="89.7,191.04 93.7,197.64 85.7,197.64" fill="none" stroke="#008000" stroke-width="0.8" stroke-linejoin="miter"/>
<polygon points="97.6,193.94 101.6,200.54 93.6,200.54" fill="#fff"/>
<polygon points="97.6,193.94 101.6,200.54 97.6,200.54" fill="#008000"/>
<polygon points="97.6,193.94 101.6,200.54 93.6,200.54" fill="none" stroke="#008000" stroke-width="0.8" stroke-linejoin="miter"/>
<polygon points="106.2,197.54 110.2,204.14 102.2,204.14" fill="#fff"/>
<polygon points="106.2,197.54 110.2,204.14 106.2,204.14" fill="#008000"/>
<polygon points="106.2,197.54 110.2,204.14 102.2,204.14" fill="none" stroke="#008000" stroke-width="0.8" stroke-linejoin="miter"/>
<polygon points="128.5,201.84 132.5,208.44 124.5,208.44" fill="#fff"/>
<polygon points="128.5,201.84 132.5,208.44 128.5,208.44" fill="#008000"/>
<polygon points="128.5,201.84 132.5,208.44 124.5,208.44" fill="none" stroke="#008000" stroke-width="0.8" stroke-linejoin="miter"/>
<polygon points="134.6,202.74 138.6,209.34 130.6,209.34" fill="#fff"/>
<polygon points="134.6,202.74 138.6,209.34 134.6,209.34" fill="#008000"/>
<polygon points="134.6,202.74 138.6,209.34 130.6,209.34" fill="none" stroke="#008000" stroke-width="0.8" stroke-linejoin="miter"/>
<polygon points="216.41,205.26 220.41,211.86 212.41,211.86" fill="#fff"/>
<polygon points="216.41,205.26 220.41,211.86 216.41,211.86" fill="#008000"/>
<polygon points="216.41,205.26 220.41,211.86 212.41,211.86" fill="none" stroke="#008000" stroke-width="0.8" stroke-linejoin="miter"/>
<polygon points="222.99,205.29 226.99,211.89 218.99,211.89" fill="#fff"/>
<polygon points="222.99,205.29 226.99,211.89 222.99,211.89" fill="#008000"/>
<polygon points="222.99,205.29 226.99,211.89 218.99,211.89" fill="none" stroke="#008000" stroke-width="0.8" stroke-linejoin="miter"/>
<polygon points="234.63,205.35 238.63,211.95 230.63,211.95" fill="#fff"/>
<polygon points="234.63,205.35 238.63,211.95 234.63,211.95" fill="#008000"/>
<polygon points="234.63,205.35 238.63,211.95 230.63,211.95" fill="none" stroke="#008000" stroke-width="0.8" stroke-linejoin="miter"/>
<polygon points="260.66,205.45 264.66,212.05 256.66,212.05" fill="#fff"/>
<polygon points="260.66,205.45 264.66,212.05 260.66,212.05" fill="#008000"/>
<polygon points="260.66,205.45 264.66,212.05 256.66,212.05" fill="none" stroke="#008000" stroke-width="0.8" stroke-linejoin="miter"/>
<polygon points="279.26,205.5 283.26,212.1 275.26,212.1" fill="#fff"/>
<polygon points="279.26,205.5 283.26,212.1 279.26,212.1" fill="#008000"/>
<polygon points="279.26,205.5 283.26,212.1 275.26,212.1" fill="none" stroke="#008000" stroke-width="0.8" stroke-linejoin="miter"/>
<polygon points="320.5,205.61 324.5,212.21 316.5,212.21" fill="#fff"/>
<polygon points="320.5,205.61 324.5,212.21 320.5,212.21" fill="#008000"/>
<polygon points="320.5,205.61 324.5,212.21 316.5,212.21" fill="none" stroke="#008000" stroke-width="0.8" stroke-linejoin="miter"/>
<polygon points="326.47,205.63 330.47,212.23 322.47,212.23" fill="#fff"/>
<polygon points="326.47,205.63 330.47,212.23 326.47,212.23" fill="#008000"/>
<polygon points="326.47,205.63 330.47,212.23 322.47,212.23" fill="none" stroke="#008000" stroke-width="0.8" stroke-linejoin="miter"/>
<polygon points="329.67,205.64 333.67,212.24 325.67,212.24" fill="#fff"/>
<polygon points="329.67,205.64 333.67,212.24 329.67,212.24" fill="#008000"/>
<polygon points="329.67,205.64 333.67,212.24 325.67,212.24" fill="none" stroke="#008000" stroke-width="0.8" stroke-linejoin="miter"/>
</g>
<path d="M211.4,215 L211.4,199.9 L334,199.9" fill="none" stroke="#3a3a3a" stroke-width="1.4" stroke-dasharray="6.3 2.6 1.2 2.6"/>
<line x1="282.6" y1="200.5" x2="249.7" y2="150.1" stroke="#1a1a1a" stroke-width="1.4" stroke-dasharray="6.3 2.6 1.2 2.6"/>
<polygon points="247.2,146.2 253.22,151.23 249.37,153.74" fill="#111"/>
<rect x="46.3" y="2.5" width="288.09999999999997" height="213.3" fill="none" stroke="#1e1e1e" stroke-width="1.2"/>
<line x1="41.3" y1="209.9" x2="46.3" y2="209.9" stroke="#000" stroke-width="1.2" />
<text x="38.6" y="212.5" font-size="10.2" font-weight="bold" font-style="normal" text-anchor="end" fill="#000" >0</text>
<line x1="41.3" y1="175.22" x2="46.3" y2="175.22" stroke="#000" stroke-width="1.2" />
<text x="38.6" y="177.82" font-size="10.2" font-weight="bold" font-style="normal" text-anchor="end" fill="#000" >50</text>
<line x1="41.3" y1="140.54" x2="46.3" y2="140.54" stroke="#000" stroke-width="1.2" />
<text x="38.6" y="143.14" font-size="10.2" font-weight="bold" font-style="normal" text-anchor="end" fill="#000" >100</text>
<line x1="41.3" y1="105.86" x2="46.3" y2="105.86" stroke="#000" stroke-width="1.2" />
<text x="38.6" y="108.46" font-size="10.2" font-weight="bold" font-style="normal" text-anchor="end" fill="#000" >150</text>
<line x1="41.3" y1="71.18" x2="46.3" y2="71.18" stroke="#000" stroke-width="1.2" />
<text x="38.6" y="73.78" font-size="10.2" font-weight="bold" font-style="normal" text-anchor="end" fill="#000" >200</text>
<line x1="41.3" y1="36.5" x2="46.3" y2="36.5" stroke="#000" stroke-width="1.2" />
<text x="38.6" y="39.1" font-size="10.2" font-weight="bold" font-style="normal" text-anchor="end" fill="#000" >250</text>
<line x1="43.8" y1="192.56" x2="46.3" y2="192.56" stroke="#000" stroke-width="1" />
<line x1="43.8" y1="157.88" x2="46.3" y2="157.88" stroke="#000" stroke-width="1" />
<line x1="43.8" y1="123.2" x2="46.3" y2="123.2" stroke="#000" stroke-width="1" />
<line x1="43.8" y1="88.52" x2="46.3" y2="88.52" stroke="#000" stroke-width="1" />
<line x1="43.8" y1="53.84" x2="46.3" y2="53.84" stroke="#000" stroke-width="1" />
<line x1="43.8" y1="19.16" x2="46.3" y2="19.16" stroke="#000" stroke-width="1" />
<line x1="143.2" y1="215.8" x2="143.2" y2="220.8" stroke="#000" stroke-width="1.2" />
<line x1="309" y1="215.8" x2="309" y2="220.8" stroke="#000" stroke-width="1.2" />
<line x1="56.51" y1="215.8" x2="56.51" y2="218.8" stroke="#000" stroke-width="1" />
<line x1="77.22" y1="215.8" x2="77.22" y2="218.8" stroke="#000" stroke-width="1" />
<line x1="93.29" y1="215.8" x2="93.29" y2="218.8" stroke="#000" stroke-width="1" />
<line x1="106.42" y1="215.8" x2="106.42" y2="218.8" stroke="#000" stroke-width="1" />
<line x1="117.52" y1="215.8" x2="117.52" y2="218.8" stroke="#000" stroke-width="1" />
<line x1="127.13" y1="215.8" x2="127.13" y2="218.8" stroke="#000" stroke-width="1" />
<line x1="135.61" y1="215.8" x2="135.61" y2="218.8" stroke="#000" stroke-width="1" />
<line x1="193.11" y1="215.8" x2="193.11" y2="218.8" stroke="#000" stroke-width="1" />
<line x1="222.31" y1="215.8" x2="222.31" y2="218.8" stroke="#000" stroke-width="1" />
<line x1="243.02" y1="215.8" x2="243.02" y2="218.8" stroke="#000" stroke-width="1" />
<line x1="259.09" y1="215.8" x2="259.09" y2="218.8" stroke="#000" stroke-width="1" />
<line x1="272.22" y1="215.8" x2="272.22" y2="218.8" stroke="#000" stroke-width="1" />
<line x1="283.32" y1="215.8" x2="283.32" y2="218.8" stroke="#000" stroke-width="1" />
<line x1="292.93" y1="215.8" x2="292.93" y2="218.8" stroke="#000" stroke-width="1" />
<line x1="301.41" y1="215.8" x2="301.41" y2="218.8" stroke="#000" stroke-width="1" />
<text x="143.2" y="230.6" font-size="10.2" font-weight="bold" font-style="normal" text-anchor="middle" fill="#000" >100</text>
<text x="308.8" y="230.6" font-size="10.2" font-weight="bold" font-style="normal" text-anchor="middle" fill="#000" >1000</text>
<text x="190.8" y="246.8" font-size="10.3" font-weight="bold" font-style="normal" text-anchor="middle" fill="#000" >Incident Photon Energy (keV)</text>
<text transform="translate(12.1,107.1) rotate(-90)" font-size="10.2" letter-spacing="0.12" font-weight="bold" text-anchor="middle">Linear Attenuation Coeff. (LAC; <tspan font-weight="normal">μ</tspan> ; cm<tspan font-size="6.5" dy="-4">-1</tspan><tspan dy="4">)</tspan></text>
<rect x="128.4" y="5.2" width="202.9" height="134.10000000000002" fill="#e4e4e4"/>
<line x1="128.4" y1="127.5" x2="331.3" y2="127.5" stroke="#a0a0a0" stroke-width="0.9" stroke-dasharray="1.4 1.3"/>
<line x1="128.4" y1="115.85" x2="331.3" y2="115.85" stroke="#a0a0a0" stroke-width="0.9" stroke-dasharray="1.4 1.3"/>
<line x1="128.4" y1="104.2" x2="331.3" y2="104.2" stroke="#a0a0a0" stroke-width="0.9" stroke-dasharray="1.4 1.3"/>
<line x1="128.4" y1="92.55" x2="331.3" y2="92.55" stroke="#a0a0a0" stroke-width="0.9" stroke-dasharray="1.4 1.3"/>
<line x1="128.4" y1="80.9" x2="331.3" y2="80.9" stroke="#a0a0a0" stroke-width="0.9" stroke-dasharray="1.4 1.3"/>
<line x1="128.4" y1="69.25" x2="331.3" y2="69.25" stroke="#a0a0a0" stroke-width="0.9" stroke-dasharray="1.4 1.3"/>
<line x1="128.4" y1="57.6" x2="331.3" y2="57.6" stroke="#a0a0a0" stroke-width="0.9" stroke-dasharray="1.4 1.3"/>
<line x1="128.4" y1="45.95" x2="331.3" y2="45.95" stroke="#a0a0a0" stroke-width="0.9" stroke-dasharray="1.4 1.3"/>
<line x1="128.4" y1="34.3" x2="331.3" y2="34.3" stroke="#a0a0a0" stroke-width="0.9" stroke-dasharray="1.4 1.3"/>
<line x1="128.4" y1="22.65" x2="331.3" y2="22.65" stroke="#a0a0a0" stroke-width="0.9" stroke-dasharray="1.4 1.3"/>
<line x1="128.4" y1="11" x2="331.3" y2="11" stroke="#a0a0a0" stroke-width="0.9" stroke-dasharray="1.4 1.3"/>
<line x1="180.4" y1="5.2" x2="180.4" y2="139.3" stroke="#a0a0a0" stroke-width="0.9" stroke-dasharray="1 1.15"/>
<line x1="229.53" y1="5.2" x2="229.53" y2="139.3" stroke="#a0a0a0" stroke-width="0.9" stroke-dasharray="1 1.15"/>
<line x1="264.39" y1="5.2" x2="264.39" y2="139.3" stroke="#a0a0a0" stroke-width="0.9" stroke-dasharray="1 1.15"/>
<line x1="291.43" y1="5.2" x2="291.43" y2="139.3" stroke="#a0a0a0" stroke-width="0.9" stroke-dasharray="1 1.15"/>
<line x1="313.52" y1="5.2" x2="313.52" y2="139.3" stroke="#a0a0a0" stroke-width="0.9" stroke-dasharray="1 1.15"/>
<g clip-path="url(#cLI)">
<polyline fill="none" stroke="#000" stroke-width="1.1"  points="-130.1,-33150.01 -114.62,-24029.55 -112.1,-22450.68 -99.65,-17143.01 -96.79,-16605.53 -80.97,-11381.84 -77.6,-10777.17 -64.31,-7787.41 -49.84,-5738.24 -12.31,-2194.2 -2.05,-1841.47 135.61,14.7 146.69,35.6 166.28,59.8 210.07,94.6 241.38,107.8 310.78,128.7 320.82,130 326.21,132.3"/>
<polyline fill="none" stroke="#ff0000" stroke-width="1.1"  points="-130.1,-30512.97 -114.62,-21392.51 -112.1,-20149.57 -99.65,-15681.72 -96.79,-15110.65 -80.97,-10390.85 -77.6,-9786.18 -64.31,-6964.38 -49.84,-5116.77 -12.31,-2076.62 -2.05,-1740.69 135.61,-6.48 146.69,12.2 166.28,36.2 210.07,70.2 241.38,87 310.78,110.6 320.82,113 326.21,114.8"/>
<polyline fill="none" stroke="#0000ff" stroke-width="1.1"  points="-130.1,-14690.74 -114.62,-10222.89 -112.1,-9786.18 -99.65,-7569.05 -96.79,-7216.33 -80.97,-4864.83 -77.6,-4495.31 -64.31,-3252.37 -49.84,-2378.96 -12.31,-1085.63 -2.05,-884.07 135.61,35.1 146.69,44 166.28,59.8 210.07,82.2 241.38,93.7 310.78,114.6 320.82,115.1 326.21,118.3"/>
<polyline fill="none" stroke="#ff00ff" stroke-width="1.1"  points="-130.1,-9399.86 -114.62,-6594.86 -112.1,-6359.71 -99.65,-4982.4 -96.79,-4680.07 -80.97,-3369.95 -77.6,-3168.39 -64.31,-2328.57 -49.84,-1656.71 -12.31,-615.33 -2.05,-497.76 135.61,57.7 146.69,63.8 166.28,75.6 210.07,93.5 241.38,103.5 310.78,122.3 320.82,123.9 326.21,125.5"/>
<polyline fill="none" stroke="#008000" stroke-width="1.1"  points="-130.1,-8089.74 -114.62,-5486.3 -112.1,-5267.94 -99.65,-3756.26 -96.79,-3588.3 -80.97,-2496.53 -77.6,-2328.57 -64.31,-1841.47 -49.84,-1236.8 -12.31,-514.55 -2.05,-363.39 135.61,59.3 146.69,65.2 166.28,74.5 210.07,91.1 241.38,100.5 310.78,119.1 320.82,121.2 326.21,123.1"/>
<circle cx="135.61" cy="14.7" r="2.448" fill="url(#gblk)" stroke="#000" stroke-width="0.4"/>
<circle cx="146.69" cy="35.6" r="2.448" fill="url(#gblk)" stroke="#000" stroke-width="0.4"/>
<circle cx="166.28" cy="59.8" r="2.448" fill="url(#gblk)" stroke="#000" stroke-width="0.4"/>
<circle cx="210.07" cy="94.6" r="2.448" fill="url(#gblk)" stroke="#000" stroke-width="0.4"/>
<circle cx="241.38" cy="107.8" r="2.448" fill="url(#gblk)" stroke="#000" stroke-width="0.4"/>
<circle cx="310.78" cy="128.7" r="2.448" fill="url(#gblk)" stroke="#000" stroke-width="0.4"/>
<circle cx="320.82" cy="130" r="2.448" fill="url(#gblk)" stroke="#000" stroke-width="0.4"/>
<circle cx="326.21" cy="132.3" r="2.448" fill="url(#gblk)" stroke="#000" stroke-width="0.4"/>
<circle cx="135.61" cy="-6.48" r="2.304" fill="#fff"/>
<path d="M135.61,-8.78 A2.304,2.304 0 0 1 135.61,-4.17 Z" fill="#ff0000"/>
<circle cx="135.61" cy="-6.48" r="2.304" fill="none" stroke="#ff0000" stroke-width="0.8"/>
<circle cx="146.69" cy="12.2" r="2.304" fill="#fff"/>
<path d="M146.69,9.9 A2.304,2.304 0 0 1 146.69,14.5 Z" fill="#ff0000"/>
<circle cx="146.69" cy="12.2" r="2.304" fill="none" stroke="#ff0000" stroke-width="0.8"/>
<circle cx="166.28" cy="36.2" r="2.304" fill="#fff"/>
<path d="M166.28,33.9 A2.304,2.304 0 0 1 166.28,38.5 Z" fill="#ff0000"/>
<circle cx="166.28" cy="36.2" r="2.304" fill="none" stroke="#ff0000" stroke-width="0.8"/>
<circle cx="210.07" cy="70.2" r="2.304" fill="#fff"/>
<path d="M210.07,67.9 A2.304,2.304 0 0 1 210.07,72.5 Z" fill="#ff0000"/>
<circle cx="210.07" cy="70.2" r="2.304" fill="none" stroke="#ff0000" stroke-width="0.8"/>
<circle cx="241.38" cy="87" r="2.304" fill="#fff"/>
<path d="M241.38,84.7 A2.304,2.304 0 0 1 241.38,89.3 Z" fill="#ff0000"/>
<circle cx="241.38" cy="87" r="2.304" fill="none" stroke="#ff0000" stroke-width="0.8"/>
<circle cx="310.78" cy="110.6" r="2.304" fill="#fff"/>
<path d="M310.78,108.3 A2.304,2.304 0 0 1 310.78,112.9 Z" fill="#ff0000"/>
<circle cx="310.78" cy="110.6" r="2.304" fill="none" stroke="#ff0000" stroke-width="0.8"/>
<circle cx="320.82" cy="113" r="2.304" fill="#fff"/>
<path d="M320.82,110.7 A2.304,2.304 0 0 1 320.82,115.3 Z" fill="#ff0000"/>
<circle cx="320.82" cy="113" r="2.304" fill="none" stroke="#ff0000" stroke-width="0.8"/>
<circle cx="326.21" cy="114.8" r="2.304" fill="#fff"/>
<path d="M326.21,112.5 A2.304,2.304 0 0 1 326.21,117.1 Z" fill="#ff0000"/>
<circle cx="326.21" cy="114.8" r="2.304" fill="none" stroke="#ff0000" stroke-width="0.8"/>
<polygon points="135.61,32 136.38,34.05 138.56,34.14 136.85,35.5 137.43,37.6 135.61,36.4 133.79,37.6 134.38,35.5 132.67,34.14 134.85,34.05" fill="#fff"/>
<polygon points="135.61,36.4 133.79,37.6 134.38,35.5 132.67,34.14 134.85,34.05 135.61,32" fill="#0000ff"/>
<polygon points="135.61,32 136.38,34.05 138.56,34.14 136.85,35.5 137.43,37.6 135.61,36.4 133.79,37.6 134.38,35.5 132.67,34.14 134.85,34.05" fill="none" stroke="#0000ff" stroke-width="0.7"/>
<polygon points="146.69,40.9 147.45,42.95 149.63,43.04 147.92,44.4 148.51,46.5 146.69,45.3 144.87,46.5 145.46,44.4 143.74,43.04 145.93,42.95" fill="#fff"/>
<polygon points="146.69,45.3 144.87,46.5 145.46,44.4 143.74,43.04 145.93,42.95 146.69,40.9" fill="#0000ff"/>
<polygon points="146.69,40.9 147.45,42.95 149.63,43.04 147.92,44.4 148.51,46.5 146.69,45.3 144.87,46.5 145.46,44.4 143.74,43.04 145.93,42.95" fill="none" stroke="#0000ff" stroke-width="0.7"/>
<polygon points="166.28,56.7 167.04,58.75 169.22,58.84 167.51,60.2 168.1,62.3 166.28,61.1 164.46,62.3 165.05,60.2 163.34,58.84 165.52,58.75" fill="#fff"/>
<polygon points="166.28,61.1 164.46,62.3 165.05,60.2 163.34,58.84 165.52,58.75 166.28,56.7" fill="#0000ff"/>
<polygon points="166.28,56.7 167.04,58.75 169.22,58.84 167.51,60.2 168.1,62.3 166.28,61.1 164.46,62.3 165.05,60.2 163.34,58.84 165.52,58.75" fill="none" stroke="#0000ff" stroke-width="0.7"/>
<polygon points="210.07,79.1 210.84,81.15 213.02,81.24 211.31,82.6 211.89,84.7 210.07,83.5 208.25,84.7 208.84,82.6 207.13,81.24 209.31,81.15" fill="#fff"/>
<polygon points="210.07,83.5 208.25,84.7 208.84,82.6 207.13,81.24 209.31,81.15 210.07,79.1" fill="#0000ff"/>
<polygon points="210.07,79.1 210.84,81.15 213.02,81.24 211.31,82.6 211.89,84.7 210.07,83.5 208.25,84.7 208.84,82.6 207.13,81.24 209.31,81.15" fill="none" stroke="#0000ff" stroke-width="0.7"/>
<polygon points="241.38,90.6 242.14,92.65 244.33,92.74 242.61,94.1 243.2,96.2 241.38,95 239.56,96.2 240.15,94.1 238.44,92.74 240.62,92.65" fill="#fff"/>
<polygon points="241.38,95 239.56,96.2 240.15,94.1 238.44,92.74 240.62,92.65 241.38,90.6" fill="#0000ff"/>
<polygon points="241.38,90.6 242.14,92.65 244.33,92.74 242.61,94.1 243.2,96.2 241.38,95 239.56,96.2 240.15,94.1 238.44,92.74 240.62,92.65" fill="none" stroke="#0000ff" stroke-width="0.7"/>
<polygon points="310.78,111.5 311.54,113.55 313.72,113.64 312.01,115 312.6,117.1 310.78,115.9 308.96,117.1 309.55,115 307.84,113.64 310.02,113.55" fill="#fff"/>
<polygon points="310.78,115.9 308.96,117.1 309.55,115 307.84,113.64 310.02,113.55 310.78,111.5" fill="#0000ff"/>
<polygon points="310.78,111.5 311.54,113.55 313.72,113.64 312.01,115 312.6,117.1 310.78,115.9 308.96,117.1 309.55,115 307.84,113.64 310.02,113.55" fill="none" stroke="#0000ff" stroke-width="0.7"/>
<polygon points="320.82,112 321.58,114.05 323.76,114.14 322.05,115.5 322.63,117.6 320.82,116.4 319,117.6 319.58,115.5 317.87,114.14 320.05,114.05" fill="#fff"/>
<polygon points="320.82,116.4 319,117.6 319.58,115.5 317.87,114.14 320.05,114.05 320.82,112" fill="#0000ff"/>
<polygon points="320.82,112 321.58,114.05 323.76,114.14 322.05,115.5 322.63,117.6 320.82,116.4 319,117.6 319.58,115.5 317.87,114.14 320.05,114.05" fill="none" stroke="#0000ff" stroke-width="0.7"/>
<polygon points="326.21,115.2 326.97,117.25 329.15,117.34 327.44,118.7 328.03,120.8 326.21,119.6 324.39,120.8 324.97,118.7 323.26,117.34 325.45,117.25" fill="#fff"/>
<polygon points="326.21,119.6 324.39,120.8 324.97,118.7 323.26,117.34 325.45,117.25 326.21,115.2" fill="#0000ff"/>
<polygon points="326.21,115.2 326.97,117.25 329.15,117.34 327.44,118.7 328.03,120.8 326.21,119.6 324.39,120.8 324.97,118.7 323.26,117.34 325.45,117.25" fill="none" stroke="#0000ff" stroke-width="0.7"/>
<polygon points="135.61,54.82 138.64,57.7 135.61,60.58 132.59,57.7" fill="#fff"/>
<polygon points="135.61,54.82 135.61,60.58 132.59,57.7" fill="#ff00ff"/>
<polygon points="135.61,54.82 138.64,57.7 135.61,60.58 132.59,57.7" fill="none" stroke="#ff00ff" stroke-width="0.8"/>
<polygon points="146.69,60.92 149.71,63.8 146.69,66.68 143.66,63.8" fill="#fff"/>
<polygon points="146.69,60.92 146.69,66.68 143.66,63.8" fill="#ff00ff"/>
<polygon points="146.69,60.92 149.71,63.8 146.69,66.68 143.66,63.8" fill="none" stroke="#ff00ff" stroke-width="0.8"/>
<polygon points="166.28,72.72 169.3,75.6 166.28,78.48 163.26,75.6" fill="#fff"/>
<polygon points="166.28,72.72 166.28,78.48 163.26,75.6" fill="#ff00ff"/>
<polygon points="166.28,72.72 169.3,75.6 166.28,78.48 163.26,75.6" fill="none" stroke="#ff00ff" stroke-width="0.8"/>
<polygon points="210.07,90.62 213.1,93.5 210.07,96.38 207.05,93.5" fill="#fff"/>
<polygon points="210.07,90.62 210.07,96.38 207.05,93.5" fill="#ff00ff"/>
<polygon points="210.07,90.62 213.1,93.5 210.07,96.38 207.05,93.5" fill="none" stroke="#ff00ff" stroke-width="0.8"/>
<polygon points="241.38,100.62 244.41,103.5 241.38,106.38 238.36,103.5" fill="#fff"/>
<polygon points="241.38,100.62 241.38,106.38 238.36,103.5" fill="#ff00ff"/>
<polygon points="241.38,100.62 244.41,103.5 241.38,106.38 238.36,103.5" fill="none" stroke="#ff00ff" stroke-width="0.8"/>
<polygon points="310.78,119.42 313.8,122.3 310.78,125.18 307.76,122.3" fill="#fff"/>
<polygon points="310.78,119.42 310.78,125.18 307.76,122.3" fill="#ff00ff"/>
<polygon points="310.78,119.42 313.8,122.3 310.78,125.18 307.76,122.3" fill="none" stroke="#ff00ff" stroke-width="0.8"/>
<polygon points="320.82,121.02 323.84,123.9 320.82,126.78 317.79,123.9" fill="#fff"/>
<polygon points="320.82,121.02 320.82,126.78 317.79,123.9" fill="#ff00ff"/>
<polygon points="320.82,121.02 323.84,123.9 320.82,126.78 317.79,123.9" fill="none" stroke="#ff00ff" stroke-width="0.8"/>
<polygon points="326.21,122.62 329.23,125.5 326.21,128.38 323.18,125.5" fill="#fff"/>
<polygon points="326.21,122.62 326.21,128.38 323.18,125.5" fill="#ff00ff"/>
<polygon points="326.21,122.62 329.23,125.5 326.21,128.38 323.18,125.5" fill="none" stroke="#ff00ff" stroke-width="0.8"/>
<polygon points="135.61,56.45 138.49,61.2 132.73,61.2" fill="#fff"/>
<polygon points="135.61,56.45 138.49,61.2 135.61,61.2" fill="#008000"/>
<polygon points="135.61,56.45 138.49,61.2 132.73,61.2" fill="none" stroke="#008000" stroke-width="0.8" stroke-linejoin="miter"/>
<polygon points="146.69,62.35 149.57,67.1 143.81,67.1" fill="#fff"/>
<polygon points="146.69,62.35 149.57,67.1 146.69,67.1" fill="#008000"/>
<polygon points="146.69,62.35 149.57,67.1 143.81,67.1" fill="none" stroke="#008000" stroke-width="0.8" stroke-linejoin="miter"/>
<polygon points="166.28,71.65 169.16,76.4 163.4,76.4" fill="#fff"/>
<polygon points="166.28,71.65 169.16,76.4 166.28,76.4" fill="#008000"/>
<polygon points="166.28,71.65 169.16,76.4 163.4,76.4" fill="none" stroke="#008000" stroke-width="0.8" stroke-linejoin="miter"/>
<polygon points="210.07,88.25 212.95,93 207.19,93" fill="#fff"/>
<polygon points="210.07,88.25 212.95,93 210.07,93" fill="#008000"/>
<polygon points="210.07,88.25 212.95,93 207.19,93" fill="none" stroke="#008000" stroke-width="0.8" stroke-linejoin="miter"/>
<polygon points="241.38,97.65 244.26,102.4 238.5,102.4" fill="#fff"/>
<polygon points="241.38,97.65 244.26,102.4 241.38,102.4" fill="#008000"/>
<polygon points="241.38,97.65 244.26,102.4 238.5,102.4" fill="none" stroke="#008000" stroke-width="0.8" stroke-linejoin="miter"/>
<polygon points="310.78,116.25 313.66,121 307.9,121" fill="#fff"/>
<polygon points="310.78,116.25 313.66,121 310.78,121" fill="#008000"/>
<polygon points="310.78,116.25 313.66,121 307.9,121" fill="none" stroke="#008000" stroke-width="0.8" stroke-linejoin="miter"/>
<polygon points="320.82,118.35 323.7,123.1 317.94,123.1" fill="#fff"/>
<polygon points="320.82,118.35 323.7,123.1 320.82,123.1" fill="#008000"/>
<polygon points="320.82,118.35 323.7,123.1 317.94,123.1" fill="none" stroke="#008000" stroke-width="0.8" stroke-linejoin="miter"/>
<polygon points="326.21,120.25 329.09,125 323.33,125" fill="#fff"/>
<polygon points="326.21,120.25 329.09,125 326.21,125" fill="#008000"/>
<polygon points="326.21,120.25 329.09,125 323.33,125" fill="none" stroke="#008000" stroke-width="0.8" stroke-linejoin="miter"/>
</g>
<rect x="235.8" y="11" width="87.4" height="49.2" fill="#000"/>
<rect x="232.8" y="8" width="86.8" height="48.6" fill="#fff" stroke="#666" stroke-width="0.6"/>
<line x1="238.3" y1="15" x2="255.7" y2="15" stroke="#000" stroke-width="1.1" />
<circle cx="247" cy="15" r="3.4" fill="url(#gblk)" stroke="#000" stroke-width="0.4"/>
<text x="258.4" y="17.6" font-size="7.35" font-weight="bold" font-style="italic" text-anchor="start" fill="#111" >Tin-Silver Exp.</text>
<line x1="238.3" y1="24.35" x2="255.7" y2="24.35" stroke="#ff0000" stroke-width="1.1" />
<circle cx="247" cy="24.35" r="3.2" fill="#fff"/>
<path d="M247,21.15 A3.2,3.2 0 0 1 247,27.55 Z" fill="#ff0000"/>
<circle cx="247" cy="24.35" r="3.2" fill="none" stroke="#ff0000" stroke-width="0.8"/>
<text x="258.4" y="26.95" font-size="7.35" font-weight="bold" font-style="italic" text-anchor="start" fill="#111" >Manganin-R Exp.</text>
<line x1="238.3" y1="33.7" x2="255.7" y2="33.7" stroke="#0000ff" stroke-width="1.1" />
<polygon points="247,29.4 248.06,32.24 251.09,32.37 248.71,34.26 249.53,37.18 247,35.5 244.47,37.18 245.29,34.26 242.91,32.37 245.94,32.24" fill="#fff"/>
<polygon points="247,35.5 244.47,37.18 245.29,34.26 242.91,32.37 245.94,32.24 247,29.4" fill="#0000ff"/>
<polygon points="247,29.4 248.06,32.24 251.09,32.37 248.71,34.26 249.53,37.18 247,35.5 244.47,37.18 245.29,34.26 242.91,32.37 245.94,32.24" fill="none" stroke="#0000ff" stroke-width="0.7"/>
<text x="258.4" y="36.3" font-size="7.35" font-weight="bold" font-style="italic" text-anchor="start" fill="#111" >Hastelloy-B Exp.</text>
<line x1="238.3" y1="43.05" x2="255.7" y2="43.05" stroke="#ff00ff" stroke-width="1.1" />
<polygon points="247,39.05 251.2,43.05 247,47.05 242.8,43.05" fill="#fff"/>
<polygon points="247,39.05 247,47.05 242.8,43.05" fill="#ff00ff"/>
<polygon points="247,39.05 251.2,43.05 247,47.05 242.8,43.05" fill="none" stroke="#ff00ff" stroke-width="0.8"/>
<text x="258.4" y="45.65" font-size="7.35" font-weight="bold" font-style="italic" text-anchor="start" fill="#111" >Hastelloy-X Exp.</text>
<line x1="238.3" y1="52.4" x2="255.7" y2="52.4" stroke="#008000" stroke-width="1.1" />
<polygon points="247,48.44 251,55.04 243,55.04" fill="#fff"/>
<polygon points="247,48.44 251,55.04 247,55.04" fill="#008000"/>
<polygon points="247,48.44 251,55.04 243,55.04" fill="none" stroke="#008000" stroke-width="0.8" stroke-linejoin="miter"/>
<text x="258.4" y="55" font-size="7.35" font-weight="bold" font-style="italic" text-anchor="start" fill="#111" >Dilver-P Exp.</text>
<rect x="128.4" y="5.2" width="202.9" height="134.10000000000002" fill="none" stroke="#000" stroke-width="1.15"/>
<line x1="125.4" y1="127.5" x2="128.4" y2="127.5" stroke="#000" stroke-width="1" />
<text x="124.4" y="129.9" font-size="7" font-weight="bold" font-style="normal" text-anchor="end" fill="#000" >0.4</text>
<line x1="125.4" y1="104.2" x2="128.4" y2="104.2" stroke="#000" stroke-width="1" />
<text x="124.4" y="106.6" font-size="7" font-weight="bold" font-style="normal" text-anchor="end" fill="#000" >0.6</text>
<line x1="125.4" y1="80.9" x2="128.4" y2="80.9" stroke="#000" stroke-width="1" />
<text x="124.4" y="83.3" font-size="7" font-weight="bold" font-style="normal" text-anchor="end" fill="#000" >0.8</text>
<line x1="125.4" y1="57.6" x2="128.4" y2="57.6" stroke="#000" stroke-width="1" />
<text x="124.4" y="60" font-size="7" font-weight="bold" font-style="normal" text-anchor="end" fill="#000" >1.0</text>
<line x1="125.4" y1="34.3" x2="128.4" y2="34.3" stroke="#000" stroke-width="1" />
<text x="124.4" y="36.7" font-size="7" font-weight="bold" font-style="normal" text-anchor="end" fill="#000" >1.2</text>
<line x1="125.4" y1="11" x2="128.4" y2="11" stroke="#000" stroke-width="1" />
<text x="124.4" y="13.4" font-size="7" font-weight="bold" font-style="normal" text-anchor="end" fill="#000" >1.4</text>
<line x1="126.9" y1="115.85" x2="128.4" y2="115.85" stroke="#000" stroke-width="0.8" />
<line x1="126.9" y1="92.55" x2="128.4" y2="92.55" stroke="#000" stroke-width="0.8" />
<line x1="126.9" y1="69.25" x2="128.4" y2="69.25" stroke="#000" stroke-width="0.8" />
<line x1="126.9" y1="45.95" x2="128.4" y2="45.95" stroke="#000" stroke-width="0.8" />
<line x1="126.9" y1="22.65" x2="128.4" y2="22.65" stroke="#000" stroke-width="0.8" />
<line x1="180.4" y1="139.3" x2="180.4" y2="141.9" stroke="#000" stroke-width="1" />
<text x="180.4" y="149.2" font-size="7" font-weight="bold" font-style="normal" text-anchor="middle" fill="#000" >400</text>
<line x1="229.53" y1="139.3" x2="229.53" y2="141.9" stroke="#000" stroke-width="1" />
<text x="229.53" y="149.2" font-size="7" font-weight="bold" font-style="normal" text-anchor="middle" fill="#000" >600</text>
<line x1="264.39" y1="139.3" x2="264.39" y2="141.9" stroke="#000" stroke-width="1" />
<text x="264.39" y="149.2" font-size="7" font-weight="bold" font-style="normal" text-anchor="middle" fill="#000" >800</text>
<line x1="291.43" y1="139.3" x2="291.43" y2="141.9" stroke="#000" stroke-width="1" />
<text x="291.43" y="149.2" font-size="7" font-weight="bold" font-style="normal" text-anchor="middle" fill="#000" >1000</text>
<line x1="313.52" y1="139.3" x2="313.52" y2="141.9" stroke="#000" stroke-width="1" />
<text x="313.52" y="149.2" font-size="7" font-weight="bold" font-style="normal" text-anchor="middle" fill="#000" >1200</text>
<line x1="137.18" y1="139.3" x2="137.18" y2="140.7" stroke="#000" stroke-width="0.6" />
<line x1="145.54" y1="139.3" x2="145.54" y2="140.7" stroke="#000" stroke-width="0.6" />
<line x1="153.36" y1="139.3" x2="153.36" y2="140.7" stroke="#000" stroke-width="0.6" />
<line x1="160.71" y1="139.3" x2="160.71" y2="140.7" stroke="#000" stroke-width="0.6" />
<line x1="167.63" y1="139.3" x2="167.63" y2="140.7" stroke="#000" stroke-width="0.6" />
<line x1="174.18" y1="139.3" x2="174.18" y2="140.7" stroke="#000" stroke-width="0.6" />
<line x1="186.31" y1="139.3" x2="186.31" y2="140.7" stroke="#000" stroke-width="0.6" />
<line x1="191.95" y1="139.3" x2="191.95" y2="140.7" stroke="#000" stroke-width="0.6" />
<line x1="197.33" y1="139.3" x2="197.33" y2="140.7" stroke="#000" stroke-width="0.6" />
<line x1="202.49" y1="139.3" x2="202.49" y2="140.7" stroke="#000" stroke-width="0.6" />
<line x1="207.44" y1="139.3" x2="207.44" y2="140.7" stroke="#000" stroke-width="0.6" />
<line x1="212.19" y1="139.3" x2="212.19" y2="140.7" stroke="#000" stroke-width="0.6" />
<line x1="216.76" y1="139.3" x2="216.76" y2="140.7" stroke="#000" stroke-width="0.6" />
<line x1="221.17" y1="139.3" x2="221.17" y2="140.7" stroke="#000" stroke-width="0.6" />
<line x1="225.42" y1="139.3" x2="225.42" y2="140.7" stroke="#000" stroke-width="0.6" />
<line x1="233.5" y1="139.3" x2="233.5" y2="140.7" stroke="#000" stroke-width="0.6" />
<line x1="237.35" y1="139.3" x2="237.35" y2="140.7" stroke="#000" stroke-width="0.6" />
<line x1="241.08" y1="139.3" x2="241.08" y2="140.7" stroke="#000" stroke-width="0.6" />
<line x1="244.7" y1="139.3" x2="244.7" y2="140.7" stroke="#000" stroke-width="0.6" />
<line x1="248.21" y1="139.3" x2="248.21" y2="140.7" stroke="#000" stroke-width="0.6" />
<line x1="251.62" y1="139.3" x2="251.62" y2="140.7" stroke="#000" stroke-width="0.6" />
<line x1="254.94" y1="139.3" x2="254.94" y2="140.7" stroke="#000" stroke-width="0.6" />
<line x1="258.17" y1="139.3" x2="258.17" y2="140.7" stroke="#000" stroke-width="0.6" />
<line x1="261.32" y1="139.3" x2="261.32" y2="140.7" stroke="#000" stroke-width="0.6" />
<line x1="267.38" y1="139.3" x2="267.38" y2="140.7" stroke="#000" stroke-width="0.6" />
<line x1="270.3" y1="139.3" x2="270.3" y2="140.7" stroke="#000" stroke-width="0.6" />
<line x1="273.15" y1="139.3" x2="273.15" y2="140.7" stroke="#000" stroke-width="0.6" />
<line x1="275.94" y1="139.3" x2="275.94" y2="140.7" stroke="#000" stroke-width="0.6" />
<line x1="278.66" y1="139.3" x2="278.66" y2="140.7" stroke="#000" stroke-width="0.6" />
<line x1="281.32" y1="139.3" x2="281.32" y2="140.7" stroke="#000" stroke-width="0.6" />
<line x1="283.93" y1="139.3" x2="283.93" y2="140.7" stroke="#000" stroke-width="0.6" />
<line x1="286.48" y1="139.3" x2="286.48" y2="140.7" stroke="#000" stroke-width="0.6" />
<line x1="288.98" y1="139.3" x2="288.98" y2="140.7" stroke="#000" stroke-width="0.6" />
<line x1="293.82" y1="139.3" x2="293.82" y2="140.7" stroke="#000" stroke-width="0.6" />
<line x1="296.18" y1="139.3" x2="296.18" y2="140.7" stroke="#000" stroke-width="0.6" />
<line x1="298.49" y1="139.3" x2="298.49" y2="140.7" stroke="#000" stroke-width="0.6" />
<line x1="300.75" y1="139.3" x2="300.75" y2="140.7" stroke="#000" stroke-width="0.6" />
<line x1="302.97" y1="139.3" x2="302.97" y2="140.7" stroke="#000" stroke-width="0.6" />
<line x1="305.16" y1="139.3" x2="305.16" y2="140.7" stroke="#000" stroke-width="0.6" />
<line x1="307.3" y1="139.3" x2="307.3" y2="140.7" stroke="#000" stroke-width="0.6" />
<line x1="309.41" y1="139.3" x2="309.41" y2="140.7" stroke="#000" stroke-width="0.6" />
<line x1="311.48" y1="139.3" x2="311.48" y2="140.7" stroke="#000" stroke-width="0.6" />
<line x1="315.52" y1="139.3" x2="315.52" y2="140.7" stroke="#000" stroke-width="0.6" />
<line x1="317.49" y1="139.3" x2="317.49" y2="140.7" stroke="#000" stroke-width="0.6" />
<line x1="319.43" y1="139.3" x2="319.43" y2="140.7" stroke="#000" stroke-width="0.6" />
<line x1="321.34" y1="139.3" x2="321.34" y2="140.7" stroke="#000" stroke-width="0.6" />
<line x1="323.22" y1="139.3" x2="323.22" y2="140.7" stroke="#000" stroke-width="0.6" />
<line x1="325.07" y1="139.3" x2="325.07" y2="140.7" stroke="#000" stroke-width="0.6" />
<line x1="326.89" y1="139.3" x2="326.89" y2="140.7" stroke="#000" stroke-width="0.6" />
<line x1="328.68" y1="139.3" x2="328.68" y2="140.7" stroke="#000" stroke-width="0.6" />
<rect x="76.6" y="5.4" width="16" height="13.8" fill="#fff" stroke="#999" stroke-width="0.7"/>
<text x="84.6" y="16.3" font-size="10.9" font-weight="bold" font-style="normal" text-anchor="middle" fill="#000" >(a)</text>
<rect x="392.6" y="2.5" width="289.29999999999995" height="213.8" fill="#fdf2ed"/>
<line x1="417.78" y1="2.5" x2="417.78" y2="216.3" stroke="#c0c0c0" stroke-width="0.9" stroke-dasharray="1 1.4"/>
<line x1="435.9" y1="2.5" x2="435.9" y2="216.3" stroke="#c0c0c0" stroke-width="0.9" stroke-dasharray="1 1.4"/>
<line x1="449.95" y1="2.5" x2="449.95" y2="216.3" stroke="#c0c0c0" stroke-width="0.9" stroke-dasharray="1 1.4"/>
<line x1="461.43" y1="2.5" x2="461.43" y2="216.3" stroke="#c0c0c0" stroke-width="0.9" stroke-dasharray="1 1.4"/>
<line x1="471.14" y1="2.5" x2="471.14" y2="216.3" stroke="#c0c0c0" stroke-width="0.9" stroke-dasharray="1 1.4"/>
<line x1="479.55" y1="2.5" x2="479.55" y2="216.3" stroke="#c0c0c0" stroke-width="0.9" stroke-dasharray="1 1.4"/>
<line x1="486.97" y1="2.5" x2="486.97" y2="216.3" stroke="#c0c0c0" stroke-width="0.9" stroke-dasharray="1 1.4"/>
<line x1="493.6" y1="2.5" x2="493.6" y2="216.3" stroke="#c0c0c0" stroke-width="0.9" stroke-dasharray="1 1.4"/>
<line x1="537.25" y1="2.5" x2="537.25" y2="216.3" stroke="#c0c0c0" stroke-width="0.9" stroke-dasharray="1 1.4"/>
<line x1="562.78" y1="2.5" x2="562.78" y2="216.3" stroke="#c0c0c0" stroke-width="0.9" stroke-dasharray="1 1.4"/>
<line x1="580.9" y1="2.5" x2="580.9" y2="216.3" stroke="#c0c0c0" stroke-width="0.9" stroke-dasharray="1 1.4"/>
<line x1="594.95" y1="2.5" x2="594.95" y2="216.3" stroke="#c0c0c0" stroke-width="0.9" stroke-dasharray="1 1.4"/>
<line x1="606.43" y1="2.5" x2="606.43" y2="216.3" stroke="#c0c0c0" stroke-width="0.9" stroke-dasharray="1 1.4"/>
<line x1="616.14" y1="2.5" x2="616.14" y2="216.3" stroke="#c0c0c0" stroke-width="0.9" stroke-dasharray="1 1.4"/>
<line x1="624.55" y1="2.5" x2="624.55" y2="216.3" stroke="#c0c0c0" stroke-width="0.9" stroke-dasharray="1 1.4"/>
<line x1="631.97" y1="2.5" x2="631.97" y2="216.3" stroke="#c0c0c0" stroke-width="0.9" stroke-dasharray="1 1.4"/>
<line x1="638.6" y1="2.5" x2="638.6" y2="216.3" stroke="#c0c0c0" stroke-width="0.9" stroke-dasharray="1 1.4"/>
<line x1="392.6" y1="49.5" x2="681.9" y2="49.5" stroke="#a8a8a8" stroke-width="1.0" stroke-dasharray="1.2 1.6"/>
<line x1="392.6" y1="105.17" x2="681.9" y2="105.17" stroke="#a8a8a8" stroke-width="1.0" stroke-dasharray="1.2 1.6"/>
<line x1="392.6" y1="160.84" x2="681.9" y2="160.84" stroke="#a8a8a8" stroke-width="1.0" stroke-dasharray="1.2 1.6"/>
<g clip-path="url(#cR)">
<polyline fill="none" stroke="#000" stroke-width="1.1"  points="419.53,195.12 427.57,187.38 428.88,185.75 435.36,179.29 436.84,178.53 445.06,169.51 446.81,168.21 453.72,160.5 461.24,153.31 480.74,131.19 486.08,127.29 557.62,65.95 563.38,62.55 573.56,57.91 596.32,48.67 612.59,44.63 648.66,35.25 653.87,34.63 656.68,33.38"/>
<polyline fill="none" stroke="#ff2020" stroke-width="1.1"  points="419.53,192.3 427.57,183.4 428.88,182.2 435.36,176.2 436.84,175.2 445.06,165.2 446.81,164 453.72,157.2 461.24,150 480.74,129.8 486.08,124.2 557.62,68.96 563.38,66.32 573.56,61.33 596.32,55.6 612.59,51.54 648.66,43.82 653.87,42.66 656.68,41.99"/>
<polyline fill="none" stroke="#1030ff" stroke-width="1.1"  points="419.53,174.8 427.57,166.4 428.88,165.3 435.36,159.6 436.84,158.4 445.06,148.9 446.81,147.6 453.72,139.3 461.24,132 480.74,112.4 486.08,107.6 557.62,62.64 563.38,61.04 573.56,58.12 596.32,52.73 612.59,49.38 648.66,41.99 653.87,41.52 656.68,40.43"/>
<polyline fill="none" stroke="#b4b45a" stroke-width="1.1"  points="419.53,164.96 427.57,156.58 428.88,155.72 435.36,150 436.84,148.54 445.06,140.93 446.81,139.52 453.72,132.52 461.24,124.97 480.74,104.63 486.08,100.73 557.62,58.35 563.38,57.04 573.56,54.31 596.32,49.46 612.59,46.26 648.66,39.11 653.87,38.12 656.68,37.66"/>
<polyline fill="none" stroke="#a01010" stroke-width="1.1"  points="419.53,160.2 427.57,151.2 428.88,150 435.36,143.2 436.84,142 445.06,133.2 446.81,131.8 453.72,124.3 461.24,116.6 480.74,97.6 486.08,94 557.62,58.01 563.38,56.74 573.56,53.95 596.32,49.65 612.59,46.89 648.66,39.81 653.87,38.83 656.68,38.27"/>
<polyline fill="none" stroke="#7f1fe0" stroke-width="1.1"  points="419.53,197.6 427.57,189.6 428.88,188.2 435.36,182.2 436.84,180.5 445.06,172.3 446.81,171 453.72,164 461.24,156 480.74,136.8 486.08,165.6 557.62,99.58 563.38,94.34 573.56,87.16 596.32,72.2 612.59,63.74 648.66,49.52 653.87,48.02 656.68,47.28"/>
<polyline fill="none" stroke="#178a78" stroke-width="1.1"  points="419.6,97.5 427.6,89.9 436.6,81 446,99 453.8,91.3 461.3,84.3 480.3,68.6 485.9,64.4 557.62,29.6 563.38,28.2 573.56,26.4 596.32,21.6 612.59,18.3 648.66,11.5 653.87,10.4 656.68,9.9"/>
<polyline fill="none" stroke="#3a9e4e" stroke-width="1.1"  points="419.53,164.7 427.57,156.8 428.88,155.6 435.36,148.7 436.84,147.6 445.06,139.6 446.81,138.4 453.72,129.8 461.24,122.2 480.74,103.3 486.08,100.2 557.62,60.18 563.38,58.23 573.56,55.94 596.32,51.31 612.59,48.37 648.66,41.06 653.87,40.14 656.68,39.55"/>
<circle cx="419.53" cy="195.12" r="3.1" fill="#fff"/>
<path d="M419.53,192.02 A3.1,3.1 0 0 1 419.53,198.22 Z" fill="#000"/>
<circle cx="419.53" cy="195.12" r="3.1" fill="none" stroke="#000" stroke-width="0.8"/>
<circle cx="427.57" cy="187.38" r="3.1" fill="#fff"/>
<path d="M427.57,184.28 A3.1,3.1 0 0 1 427.57,190.48 Z" fill="#000"/>
<circle cx="427.57" cy="187.38" r="3.1" fill="none" stroke="#000" stroke-width="0.8"/>
<circle cx="428.88" cy="185.75" r="3.1" fill="#fff"/>
<path d="M428.88,182.65 A3.1,3.1 0 0 1 428.88,188.85 Z" fill="#000"/>
<circle cx="428.88" cy="185.75" r="3.1" fill="none" stroke="#000" stroke-width="0.8"/>
<circle cx="435.36" cy="179.29" r="3.1" fill="#fff"/>
<path d="M435.36,176.19 A3.1,3.1 0 0 1 435.36,182.39 Z" fill="#000"/>
<circle cx="435.36" cy="179.29" r="3.1" fill="none" stroke="#000" stroke-width="0.8"/>
<circle cx="436.84" cy="178.53" r="3.1" fill="#fff"/>
<path d="M436.84,175.43 A3.1,3.1 0 0 1 436.84,181.63 Z" fill="#000"/>
<circle cx="436.84" cy="178.53" r="3.1" fill="none" stroke="#000" stroke-width="0.8"/>
<circle cx="445.06" cy="169.51" r="3.1" fill="#fff"/>
<path d="M445.06,166.41 A3.1,3.1 0 0 1 445.06,172.61 Z" fill="#000"/>
<circle cx="445.06" cy="169.51" r="3.1" fill="none" stroke="#000" stroke-width="0.8"/>
<circle cx="446.81" cy="168.21" r="3.1" fill="#fff"/>
<path d="M446.81,165.11 A3.1,3.1 0 0 1 446.81,171.31 Z" fill="#000"/>
<circle cx="446.81" cy="168.21" r="3.1" fill="none" stroke="#000" stroke-width="0.8"/>
<circle cx="453.72" cy="160.5" r="3.1" fill="#fff"/>
<path d="M453.72,157.4 A3.1,3.1 0 0 1 453.72,163.6 Z" fill="#000"/>
<circle cx="453.72" cy="160.5" r="3.1" fill="none" stroke="#000" stroke-width="0.8"/>
<circle cx="461.24" cy="153.31" r="3.1" fill="#fff"/>
<path d="M461.24,150.21 A3.1,3.1 0 0 1 461.24,156.41 Z" fill="#000"/>
<circle cx="461.24" cy="153.31" r="3.1" fill="none" stroke="#000" stroke-width="0.8"/>
<circle cx="480.74" cy="131.19" r="3.1" fill="#fff"/>
<path d="M480.74,128.09 A3.1,3.1 0 0 1 480.74,134.29 Z" fill="#000"/>
<circle cx="480.74" cy="131.19" r="3.1" fill="none" stroke="#000" stroke-width="0.8"/>
<circle cx="486.08" cy="127.29" r="3.1" fill="#fff"/>
<path d="M486.08,124.19 A3.1,3.1 0 0 1 486.08,130.39 Z" fill="#000"/>
<circle cx="486.08" cy="127.29" r="3.1" fill="none" stroke="#000" stroke-width="0.8"/>
<circle cx="557.62" cy="65.95" r="3.1" fill="#fff"/>
<path d="M557.62,62.85 A3.1,3.1 0 0 1 557.62,69.05 Z" fill="#000"/>
<circle cx="557.62" cy="65.95" r="3.1" fill="none" stroke="#000" stroke-width="0.8"/>
<circle cx="563.38" cy="62.55" r="3.1" fill="#fff"/>
<path d="M563.38,59.45 A3.1,3.1 0 0 1 563.38,65.65 Z" fill="#000"/>
<circle cx="563.38" cy="62.55" r="3.1" fill="none" stroke="#000" stroke-width="0.8"/>
<circle cx="573.56" cy="57.91" r="3.1" fill="#fff"/>
<path d="M573.56,54.81 A3.1,3.1 0 0 1 573.56,61.01 Z" fill="#000"/>
<circle cx="573.56" cy="57.91" r="3.1" fill="none" stroke="#000" stroke-width="0.8"/>
<circle cx="596.32" cy="48.67" r="3.1" fill="#fff"/>
<path d="M596.32,45.57 A3.1,3.1 0 0 1 596.32,51.77 Z" fill="#000"/>
<circle cx="596.32" cy="48.67" r="3.1" fill="none" stroke="#000" stroke-width="0.8"/>
<circle cx="612.59" cy="44.63" r="3.1" fill="#fff"/>
<path d="M612.59,41.53 A3.1,3.1 0 0 1 612.59,47.73 Z" fill="#000"/>
<circle cx="612.59" cy="44.63" r="3.1" fill="none" stroke="#000" stroke-width="0.8"/>
<circle cx="648.66" cy="35.25" r="3.1" fill="#fff"/>
<path d="M648.66,32.15 A3.1,3.1 0 0 1 648.66,38.35 Z" fill="#000"/>
<circle cx="648.66" cy="35.25" r="3.1" fill="none" stroke="#000" stroke-width="0.8"/>
<circle cx="653.87" cy="34.63" r="3.1" fill="#fff"/>
<path d="M653.87,31.53 A3.1,3.1 0 0 1 653.87,37.73 Z" fill="#000"/>
<circle cx="653.87" cy="34.63" r="3.1" fill="none" stroke="#000" stroke-width="0.8"/>
<circle cx="656.68" cy="33.38" r="3.1" fill="#fff"/>
<path d="M656.68,30.28 A3.1,3.1 0 0 1 656.68,36.48 Z" fill="#000"/>
<circle cx="656.68" cy="33.38" r="3.1" fill="none" stroke="#000" stroke-width="0.8"/>
<polygon points="419.53,188 420.58,190.84 423.62,190.97 421.24,192.86 422.05,195.78 419.53,194.1 417,195.78 417.81,192.86 415.44,190.97 418.47,190.84" fill="#fff"/>
<polygon points="419.53,194.1 417,195.78 417.81,192.86 415.44,190.97 418.47,190.84 419.53,188" fill="#ff0000"/>
<polygon points="419.53,188 420.58,190.84 423.62,190.97 421.24,192.86 422.05,195.78 419.53,194.1 417,195.78 417.81,192.86 415.44,190.97 418.47,190.84" fill="none" stroke="#ff0000" stroke-width="0.7"/>
<polygon points="427.57,179.1 428.63,181.94 431.66,182.07 429.28,183.96 430.1,186.88 427.57,185.2 425.04,186.88 425.86,183.96 423.48,182.07 426.51,181.94" fill="#fff"/>
<polygon points="427.57,185.2 425.04,186.88 425.86,183.96 423.48,182.07 426.51,181.94 427.57,179.1" fill="#ff0000"/>
<polygon points="427.57,179.1 428.63,181.94 431.66,182.07 429.28,183.96 430.1,186.88 427.57,185.2 425.04,186.88 425.86,183.96 423.48,182.07 426.51,181.94" fill="none" stroke="#ff0000" stroke-width="0.7"/>
<polygon points="428.88,177.9 429.94,180.74 432.97,180.87 430.6,182.76 431.41,185.68 428.88,184 426.36,185.68 427.17,182.76 424.79,180.87 427.83,180.74" fill="#fff"/>
<polygon points="428.88,184 426.36,185.68 427.17,182.76 424.79,180.87 427.83,180.74 428.88,177.9" fill="#ff0000"/>
<polygon points="428.88,177.9 429.94,180.74 432.97,180.87 430.6,182.76 431.41,185.68 428.88,184 426.36,185.68 427.17,182.76 424.79,180.87 427.83,180.74" fill="none" stroke="#ff0000" stroke-width="0.7"/>
<polygon points="435.36,171.9 436.41,174.74 439.44,174.87 437.07,176.76 437.88,179.68 435.36,178 432.83,179.68 433.64,176.76 431.27,174.87 434.3,174.74" fill="#fff"/>
<polygon points="435.36,178 432.83,179.68 433.64,176.76 431.27,174.87 434.3,174.74 435.36,171.9" fill="#ff0000"/>
<polygon points="435.36,171.9 436.41,174.74 439.44,174.87 437.07,176.76 437.88,179.68 435.36,178 432.83,179.68 433.64,176.76 431.27,174.87 434.3,174.74" fill="none" stroke="#ff0000" stroke-width="0.7"/>
<polygon points="436.84,170.9 437.9,173.74 440.93,173.87 438.55,175.76 439.37,178.68 436.84,177 434.31,178.68 435.13,175.76 432.75,173.87 435.78,173.74" fill="#fff"/>
<polygon points="436.84,177 434.31,178.68 435.13,175.76 432.75,173.87 435.78,173.74 436.84,170.9" fill="#ff0000"/>
<polygon points="436.84,170.9 437.9,173.74 440.93,173.87 438.55,175.76 439.37,178.68 436.84,177 434.31,178.68 435.13,175.76 432.75,173.87 435.78,173.74" fill="none" stroke="#ff0000" stroke-width="0.7"/>
<polygon points="445.06,160.9 446.12,163.74 449.15,163.87 446.77,165.76 447.59,168.68 445.06,167 442.54,168.68 443.35,165.76 440.97,163.87 444,163.74" fill="#fff"/>
<polygon points="445.06,167 442.54,168.68 443.35,165.76 440.97,163.87 444,163.74 445.06,160.9" fill="#ff0000"/>
<polygon points="445.06,160.9 446.12,163.74 449.15,163.87 446.77,165.76 447.59,168.68 445.06,167 442.54,168.68 443.35,165.76 440.97,163.87 444,163.74" fill="none" stroke="#ff0000" stroke-width="0.7"/>
<polygon points="446.81,159.7 447.87,162.54 450.9,162.67 448.52,164.56 449.34,167.48 446.81,165.8 444.28,167.48 445.1,164.56 442.72,162.67 445.75,162.54" fill="#fff"/>
<polygon points="446.81,165.8 444.28,167.48 445.1,164.56 442.72,162.67 445.75,162.54 446.81,159.7" fill="#ff0000"/>
<polygon points="446.81,159.7 447.87,162.54 450.9,162.67 448.52,164.56 449.34,167.48 446.81,165.8 444.28,167.48 445.1,164.56 442.72,162.67 445.75,162.54" fill="none" stroke="#ff0000" stroke-width="0.7"/>
<polygon points="453.72,152.9 454.78,155.74 457.81,155.87 455.43,157.76 456.25,160.68 453.72,159 451.19,160.68 452.01,157.76 449.63,155.87 452.66,155.74" fill="#fff"/>
<polygon points="453.72,159 451.19,160.68 452.01,157.76 449.63,155.87 452.66,155.74 453.72,152.9" fill="#ff0000"/>
<polygon points="453.72,152.9 454.78,155.74 457.81,155.87 455.43,157.76 456.25,160.68 453.72,159 451.19,160.68 452.01,157.76 449.63,155.87 452.66,155.74" fill="none" stroke="#ff0000" stroke-width="0.7"/>
<polygon points="461.24,145.7 462.3,148.54 465.33,148.67 462.95,150.56 463.77,153.48 461.24,151.8 458.71,153.48 459.53,150.56 457.15,148.67 460.18,148.54" fill="#fff"/>
<polygon points="461.24,151.8 458.71,153.48 459.53,150.56 457.15,148.67 460.18,148.54 461.24,145.7" fill="#ff0000"/>
<polygon points="461.24,145.7 462.3,148.54 465.33,148.67 462.95,150.56 463.77,153.48 461.24,151.8 458.71,153.48 459.53,150.56 457.15,148.67 460.18,148.54" fill="none" stroke="#ff0000" stroke-width="0.7"/>
<polygon points="480.74,125.5 481.8,128.34 484.83,128.47 482.46,130.36 483.27,133.28 480.74,131.6 478.22,133.28 479.03,130.36 476.65,128.47 479.69,128.34" fill="#fff"/>
<polygon points="480.74,131.6 478.22,133.28 479.03,130.36 476.65,128.47 479.69,128.34 480.74,125.5" fill="#ff0000"/>
<polygon points="480.74,125.5 481.8,128.34 484.83,128.47 482.46,130.36 483.27,133.28 480.74,131.6 478.22,133.28 479.03,130.36 476.65,128.47 479.69,128.34" fill="none" stroke="#ff0000" stroke-width="0.7"/>
<polygon points="486.08,119.9 487.14,122.74 490.17,122.87 487.79,124.76 488.61,127.68 486.08,126 483.55,127.68 484.37,124.76 481.99,122.87 485.02,122.74" fill="#fff"/>
<polygon points="486.08,126 483.55,127.68 484.37,124.76 481.99,122.87 485.02,122.74 486.08,119.9" fill="#ff0000"/>
<polygon points="486.08,119.9 487.14,122.74 490.17,122.87 487.79,124.76 488.61,127.68 486.08,126 483.55,127.68 484.37,124.76 481.99,122.87 485.02,122.74" fill="none" stroke="#ff0000" stroke-width="0.7"/>
<polygon points="557.62,64.66 558.68,67.51 561.71,67.63 559.33,69.52 560.15,72.44 557.62,70.76 555.1,72.44 555.91,69.52 553.53,67.63 556.57,67.51" fill="#fff"/>
<polygon points="557.62,70.76 555.1,72.44 555.91,69.52 553.53,67.63 556.57,67.51 557.62,64.66" fill="#ff0000"/>
<polygon points="557.62,64.66 558.68,67.51 561.71,67.63 559.33,69.52 560.15,72.44 557.62,70.76 555.1,72.44 555.91,69.52 553.53,67.63 556.57,67.51" fill="none" stroke="#ff0000" stroke-width="0.7"/>
<polygon points="563.38,62.02 564.44,64.87 567.47,64.99 565.09,66.88 565.91,69.8 563.38,68.12 560.85,69.8 561.67,66.88 559.29,64.99 562.32,64.87" fill="#fff"/>
<polygon points="563.38,68.12 560.85,69.8 561.67,66.88 559.29,64.99 562.32,64.87 563.38,62.02" fill="#ff0000"/>
<polygon points="563.38,62.02 564.44,64.87 567.47,64.99 565.09,66.88 565.91,69.8 563.38,68.12 560.85,69.8 561.67,66.88 559.29,64.99 562.32,64.87" fill="none" stroke="#ff0000" stroke-width="0.7"/>
<polygon points="573.56,57.03 574.62,59.88 577.65,60 575.27,61.89 576.09,64.81 573.56,63.13 571.03,64.81 571.85,61.89 569.47,60 572.5,59.88" fill="#fff"/>
<polygon points="573.56,63.13 571.03,64.81 571.85,61.89 569.47,60 572.5,59.88 573.56,57.03" fill="#ff0000"/>
<polygon points="573.56,57.03 574.62,59.88 577.65,60 575.27,61.89 576.09,64.81 573.56,63.13 571.03,64.81 571.85,61.89 569.47,60 572.5,59.88" fill="none" stroke="#ff0000" stroke-width="0.7"/>
<polygon points="596.32,51.3 597.38,54.14 600.41,54.27 598.03,56.16 598.85,59.08 596.32,57.4 593.79,59.08 594.61,56.16 592.23,54.27 595.26,54.14" fill="#fff"/>
<polygon points="596.32,57.4 593.79,59.08 594.61,56.16 592.23,54.27 595.26,54.14 596.32,51.3" fill="#ff0000"/>
<polygon points="596.32,51.3 597.38,54.14 600.41,54.27 598.03,56.16 598.85,59.08 596.32,57.4 593.79,59.08 594.61,56.16 592.23,54.27 595.26,54.14" fill="none" stroke="#ff0000" stroke-width="0.7"/>
<polygon points="612.59,47.24 613.65,50.09 616.68,50.21 614.3,52.1 615.12,55.02 612.59,53.34 610.06,55.02 610.88,52.1 608.5,50.21 611.53,50.09" fill="#fff"/>
<polygon points="612.59,53.34 610.06,55.02 610.88,52.1 608.5,50.21 611.53,50.09 612.59,47.24" fill="#ff0000"/>
<polygon points="612.59,47.24 613.65,50.09 616.68,50.21 614.3,52.1 615.12,55.02 612.59,53.34 610.06,55.02 610.88,52.1 608.5,50.21 611.53,50.09" fill="none" stroke="#ff0000" stroke-width="0.7"/>
<polygon points="648.66,39.52 649.72,42.36 652.75,42.49 650.37,44.37 651.19,47.3 648.66,45.62 646.13,47.3 646.95,44.37 644.57,42.49 647.6,42.36" fill="#fff"/>
<polygon points="648.66,45.62 646.13,47.3 646.95,44.37 644.57,42.49 647.6,42.36 648.66,39.52" fill="#ff0000"/>
<polygon points="648.66,39.52 649.72,42.36 652.75,42.49 650.37,44.37 651.19,47.3 648.66,45.62 646.13,47.3 646.95,44.37 644.57,42.49 647.6,42.36" fill="none" stroke="#ff0000" stroke-width="0.7"/>
<polygon points="653.87,38.36 654.93,41.2 657.96,41.33 655.59,43.22 656.4,46.14 653.87,44.46 651.35,46.14 652.16,43.22 649.78,41.33 652.82,41.2" fill="#fff"/>
<polygon points="653.87,44.46 651.35,46.14 652.16,43.22 649.78,41.33 652.82,41.2 653.87,38.36" fill="#ff0000"/>
<polygon points="653.87,38.36 654.93,41.2 657.96,41.33 655.59,43.22 656.4,46.14 653.87,44.46 651.35,46.14 652.16,43.22 649.78,41.33 652.82,41.2" fill="none" stroke="#ff0000" stroke-width="0.7"/>
<polygon points="656.68,37.69 657.73,40.54 660.77,40.67 658.39,42.55 659.2,45.47 656.68,43.79 654.15,45.47 654.96,42.55 652.59,40.67 655.62,40.54" fill="#fff"/>
<polygon points="656.68,43.79 654.15,45.47 654.96,42.55 652.59,40.67 655.62,40.54 656.68,37.69" fill="#ff0000"/>
<polygon points="656.68,37.69 657.73,40.54 660.77,40.67 658.39,42.55 659.2,45.47 656.68,43.79 654.15,45.47 654.96,42.55 652.59,40.67 655.62,40.54" fill="none" stroke="#ff0000" stroke-width="0.7"/>
<circle cx="419.53" cy="174.8" r="3.9" fill="url(#gblu)"/>
<circle cx="427.57" cy="166.4" r="3.9" fill="url(#gblu)"/>
<circle cx="428.88" cy="165.3" r="3.9" fill="url(#gblu)"/>
<circle cx="435.36" cy="159.6" r="3.9" fill="url(#gblu)"/>
<circle cx="436.84" cy="158.4" r="3.9" fill="url(#gblu)"/>
<circle cx="445.06" cy="148.9" r="3.9" fill="url(#gblu)"/>
<circle cx="446.81" cy="147.6" r="3.9" fill="url(#gblu)"/>
<circle cx="453.72" cy="139.3" r="3.9" fill="url(#gblu)"/>
<circle cx="461.24" cy="132" r="3.9" fill="url(#gblu)"/>
<circle cx="480.74" cy="112.4" r="3.9" fill="url(#gblu)"/>
<circle cx="486.08" cy="107.6" r="3.9" fill="url(#gblu)"/>
<circle cx="557.62" cy="62.64" r="3.9" fill="url(#gblu)"/>
<circle cx="563.38" cy="61.04" r="3.9" fill="url(#gblu)"/>
<circle cx="573.56" cy="58.12" r="3.9" fill="url(#gblu)"/>
<circle cx="596.32" cy="52.73" r="3.9" fill="url(#gblu)"/>
<circle cx="612.59" cy="49.38" r="3.9" fill="url(#gblu)"/>
<circle cx="648.66" cy="41.99" r="3.9" fill="url(#gblu)"/>
<circle cx="653.87" cy="41.52" r="3.9" fill="url(#gblu)"/>
<circle cx="656.68" cy="40.43" r="3.9" fill="url(#gblu)"/>
<circle cx="419.53" cy="164.96" r="3.1" fill="#fffff0"/>
<path d="M416.43,164.96 A3.1,3.1 0 0 1 422.63,164.96 Z" fill="#8c8c30"/>
<circle cx="419.53" cy="164.96" r="3.1" fill="none" stroke="#8c8c30" stroke-width="0.8"/>
<circle cx="427.57" cy="156.58" r="3.1" fill="#fffff0"/>
<path d="M424.47,156.58 A3.1,3.1 0 0 1 430.67,156.58 Z" fill="#8c8c30"/>
<circle cx="427.57" cy="156.58" r="3.1" fill="none" stroke="#8c8c30" stroke-width="0.8"/>
<circle cx="428.88" cy="155.72" r="3.1" fill="#fffff0"/>
<path d="M425.78,155.72 A3.1,3.1 0 0 1 431.98,155.72 Z" fill="#8c8c30"/>
<circle cx="428.88" cy="155.72" r="3.1" fill="none" stroke="#8c8c30" stroke-width="0.8"/>
<circle cx="435.36" cy="150" r="3.1" fill="#fffff0"/>
<path d="M432.26,150 A3.1,3.1 0 0 1 438.46,150 Z" fill="#8c8c30"/>
<circle cx="435.36" cy="150" r="3.1" fill="none" stroke="#8c8c30" stroke-width="0.8"/>
<circle cx="436.84" cy="148.54" r="3.1" fill="#fffff0"/>
<path d="M433.74,148.54 A3.1,3.1 0 0 1 439.94,148.54 Z" fill="#8c8c30"/>
<circle cx="436.84" cy="148.54" r="3.1" fill="none" stroke="#8c8c30" stroke-width="0.8"/>
<circle cx="445.06" cy="140.93" r="3.1" fill="#fffff0"/>
<path d="M441.96,140.93 A3.1,3.1 0 0 1 448.16,140.93 Z" fill="#8c8c30"/>
<circle cx="445.06" cy="140.93" r="3.1" fill="none" stroke="#8c8c30" stroke-width="0.8"/>
<circle cx="446.81" cy="139.52" r="3.1" fill="#fffff0"/>
<path d="M443.71,139.52 A3.1,3.1 0 0 1 449.91,139.52 Z" fill="#8c8c30"/>
<circle cx="446.81" cy="139.52" r="3.1" fill="none" stroke="#8c8c30" stroke-width="0.8"/>
<circle cx="453.72" cy="132.52" r="3.1" fill="#fffff0"/>
<path d="M450.62,132.52 A3.1,3.1 0 0 1 456.82,132.52 Z" fill="#8c8c30"/>
<circle cx="453.72" cy="132.52" r="3.1" fill="none" stroke="#8c8c30" stroke-width="0.8"/>
<circle cx="461.24" cy="124.97" r="3.1" fill="#fffff0"/>
<path d="M458.14,124.97 A3.1,3.1 0 0 1 464.34,124.97 Z" fill="#8c8c30"/>
<circle cx="461.24" cy="124.97" r="3.1" fill="none" stroke="#8c8c30" stroke-width="0.8"/>
<circle cx="480.74" cy="104.63" r="3.1" fill="#fffff0"/>
<path d="M477.64,104.63 A3.1,3.1 0 0 1 483.84,104.63 Z" fill="#8c8c30"/>
<circle cx="480.74" cy="104.63" r="3.1" fill="none" stroke="#8c8c30" stroke-width="0.8"/>
<circle cx="486.08" cy="100.73" r="3.1" fill="#fffff0"/>
<path d="M482.98,100.73 A3.1,3.1 0 0 1 489.18,100.73 Z" fill="#8c8c30"/>
<circle cx="486.08" cy="100.73" r="3.1" fill="none" stroke="#8c8c30" stroke-width="0.8"/>
<circle cx="557.62" cy="58.35" r="3.1" fill="#fffff0"/>
<path d="M554.52,58.35 A3.1,3.1 0 0 1 560.72,58.35 Z" fill="#8c8c30"/>
<circle cx="557.62" cy="58.35" r="3.1" fill="none" stroke="#8c8c30" stroke-width="0.8"/>
<circle cx="563.38" cy="57.04" r="3.1" fill="#fffff0"/>
<path d="M560.28,57.04 A3.1,3.1 0 0 1 566.48,57.04 Z" fill="#8c8c30"/>
<circle cx="563.38" cy="57.04" r="3.1" fill="none" stroke="#8c8c30" stroke-width="0.8"/>
<circle cx="573.56" cy="54.31" r="3.1" fill="#fffff0"/>
<path d="M570.46,54.31 A3.1,3.1 0 0 1 576.66,54.31 Z" fill="#8c8c30"/>
<circle cx="573.56" cy="54.31" r="3.1" fill="none" stroke="#8c8c30" stroke-width="0.8"/>
<circle cx="596.32" cy="49.46" r="3.1" fill="#fffff0"/>
<path d="M593.22,49.46 A3.1,3.1 0 0 1 599.42,49.46 Z" fill="#8c8c30"/>
<circle cx="596.32" cy="49.46" r="3.1" fill="none" stroke="#8c8c30" stroke-width="0.8"/>
<circle cx="612.59" cy="46.26" r="3.1" fill="#fffff0"/>
<path d="M609.49,46.26 A3.1,3.1 0 0 1 615.69,46.26 Z" fill="#8c8c30"/>
<circle cx="612.59" cy="46.26" r="3.1" fill="none" stroke="#8c8c30" stroke-width="0.8"/>
<circle cx="648.66" cy="39.11" r="3.1" fill="#fffff0"/>
<path d="M645.56,39.11 A3.1,3.1 0 0 1 651.76,39.11 Z" fill="#8c8c30"/>
<circle cx="648.66" cy="39.11" r="3.1" fill="none" stroke="#8c8c30" stroke-width="0.8"/>
<circle cx="653.87" cy="38.12" r="3.1" fill="#fffff0"/>
<path d="M650.77,38.12 A3.1,3.1 0 0 1 656.97,38.12 Z" fill="#8c8c30"/>
<circle cx="653.87" cy="38.12" r="3.1" fill="none" stroke="#8c8c30" stroke-width="0.8"/>
<circle cx="656.68" cy="37.66" r="3.1" fill="#fffff0"/>
<path d="M653.58,37.66 A3.1,3.1 0 0 1 659.78,37.66 Z" fill="#8c8c30"/>
<circle cx="656.68" cy="37.66" r="3.1" fill="none" stroke="#8c8c30" stroke-width="0.8"/>
<polygon points="415.73,157.8 423.33,157.8 419.53,163.8" fill="#fff"/>
<polygon points="419.53,157.8 423.33,157.8 419.53,163.8" fill="#a00000"/>
<polygon points="415.73,157.8 423.33,157.8 419.53,163.8" fill="none" stroke="#a00000" stroke-width="0.8" stroke-linejoin="miter"/>
<polygon points="423.77,148.8 431.37,148.8 427.57,154.8" fill="#fff"/>
<polygon points="427.57,148.8 431.37,148.8 427.57,154.8" fill="#a00000"/>
<polygon points="423.77,148.8 431.37,148.8 427.57,154.8" fill="none" stroke="#a00000" stroke-width="0.8" stroke-linejoin="miter"/>
<polygon points="425.08,147.6 432.68,147.6 428.88,153.6" fill="#fff"/>
<polygon points="428.88,147.6 432.68,147.6 428.88,153.6" fill="#a00000"/>
<polygon points="425.08,147.6 432.68,147.6 428.88,153.6" fill="none" stroke="#a00000" stroke-width="0.8" stroke-linejoin="miter"/>
<polygon points="431.56,140.8 439.16,140.8 435.36,146.8" fill="#fff"/>
<polygon points="435.36,140.8 439.16,140.8 435.36,146.8" fill="#a00000"/>
<polygon points="431.56,140.8 439.16,140.8 435.36,146.8" fill="none" stroke="#a00000" stroke-width="0.8" stroke-linejoin="miter"/>
<polygon points="433.04,139.6 440.64,139.6 436.84,145.6" fill="#fff"/>
<polygon points="436.84,139.6 440.64,139.6 436.84,145.6" fill="#a00000"/>
<polygon points="433.04,139.6 440.64,139.6 436.84,145.6" fill="none" stroke="#a00000" stroke-width="0.8" stroke-linejoin="miter"/>
<polygon points="441.26,130.8 448.86,130.8 445.06,136.8" fill="#fff"/>
<polygon points="445.06,130.8 448.86,130.8 445.06,136.8" fill="#a00000"/>
<polygon points="441.26,130.8 448.86,130.8 445.06,136.8" fill="none" stroke="#a00000" stroke-width="0.8" stroke-linejoin="miter"/>
<polygon points="443.01,129.4 450.61,129.4 446.81,135.4" fill="#fff"/>
<polygon points="446.81,129.4 450.61,129.4 446.81,135.4" fill="#a00000"/>
<polygon points="443.01,129.4 450.61,129.4 446.81,135.4" fill="none" stroke="#a00000" stroke-width="0.8" stroke-linejoin="miter"/>
<polygon points="449.92,121.9 457.52,121.9 453.72,127.9" fill="#fff"/>
<polygon points="453.72,121.9 457.52,121.9 453.72,127.9" fill="#a00000"/>
<polygon points="449.92,121.9 457.52,121.9 453.72,127.9" fill="none" stroke="#a00000" stroke-width="0.8" stroke-linejoin="miter"/>
<polygon points="457.44,114.2 465.04,114.2 461.24,120.2" fill="#fff"/>
<polygon points="461.24,114.2 465.04,114.2 461.24,120.2" fill="#a00000"/>
<polygon points="457.44,114.2 465.04,114.2 461.24,120.2" fill="none" stroke="#a00000" stroke-width="0.8" stroke-linejoin="miter"/>
<polygon points="476.94,95.2 484.54,95.2 480.74,101.2" fill="#fff"/>
<polygon points="480.74,95.2 484.54,95.2 480.74,101.2" fill="#a00000"/>
<polygon points="476.94,95.2 484.54,95.2 480.74,101.2" fill="none" stroke="#a00000" stroke-width="0.8" stroke-linejoin="miter"/>
<polygon points="482.28,91.6 489.88,91.6 486.08,97.6" fill="#fff"/>
<polygon points="486.08,91.6 489.88,91.6 486.08,97.6" fill="#a00000"/>
<polygon points="482.28,91.6 489.88,91.6 486.08,97.6" fill="none" stroke="#a00000" stroke-width="0.8" stroke-linejoin="miter"/>
<polygon points="553.82,55.61 561.42,55.61 557.62,61.61" fill="#fff"/>
<polygon points="557.62,55.61 561.42,55.61 557.62,61.61" fill="#a00000"/>
<polygon points="553.82,55.61 561.42,55.61 557.62,61.61" fill="none" stroke="#a00000" stroke-width="0.8" stroke-linejoin="miter"/>
<polygon points="559.58,54.34 567.18,54.34 563.38,60.34" fill="#fff"/>
<polygon points="563.38,54.34 567.18,54.34 563.38,60.34" fill="#a00000"/>
<polygon points="559.58,54.34 567.18,54.34 563.38,60.34" fill="none" stroke="#a00000" stroke-width="0.8" stroke-linejoin="miter"/>
<polygon points="569.76,51.55 577.36,51.55 573.56,57.55" fill="#fff"/>
<polygon points="573.56,51.55 577.36,51.55 573.56,57.55" fill="#a00000"/>
<polygon points="569.76,51.55 577.36,51.55 573.56,57.55" fill="none" stroke="#a00000" stroke-width="0.8" stroke-linejoin="miter"/>
<polygon points="592.52,47.25 600.12,47.25 596.32,53.25" fill="#fff"/>
<polygon points="596.32,47.25 600.12,47.25 596.32,53.25" fill="#a00000"/>
<polygon points="592.52,47.25 600.12,47.25 596.32,53.25" fill="none" stroke="#a00000" stroke-width="0.8" stroke-linejoin="miter"/>
<polygon points="608.79,44.49 616.39,44.49 612.59,50.49" fill="#fff"/>
<polygon points="612.59,44.49 616.39,44.49 612.59,50.49" fill="#a00000"/>
<polygon points="608.79,44.49 616.39,44.49 612.59,50.49" fill="none" stroke="#a00000" stroke-width="0.8" stroke-linejoin="miter"/>
<polygon points="644.86,37.41 652.46,37.41 648.66,43.41" fill="#fff"/>
<polygon points="648.66,37.41 652.46,37.41 648.66,43.41" fill="#a00000"/>
<polygon points="644.86,37.41 652.46,37.41 648.66,43.41" fill="none" stroke="#a00000" stroke-width="0.8" stroke-linejoin="miter"/>
<polygon points="650.07,36.43 657.67,36.43 653.87,42.43" fill="#fff"/>
<polygon points="653.87,36.43 657.67,36.43 653.87,42.43" fill="#a00000"/>
<polygon points="650.07,36.43 657.67,36.43 653.87,42.43" fill="none" stroke="#a00000" stroke-width="0.8" stroke-linejoin="miter"/>
<polygon points="652.88,35.87 660.48,35.87 656.68,41.87" fill="#fff"/>
<polygon points="656.68,35.87 660.48,35.87 656.68,41.87" fill="#a00000"/>
<polygon points="652.88,35.87 660.48,35.87 656.68,41.87" fill="none" stroke="#a00000" stroke-width="0.8" stroke-linejoin="miter"/>
<circle cx="419.53" cy="197.6" r="3.5" fill="#fdf6fb" fill-opacity="0.55" stroke="#9030e8" stroke-width="0.75"/>
<line x1="416.03" y1="197.6" x2="423.03" y2="197.6" stroke="#9030e8" stroke-width="0.75" />
<line x1="419.53" y1="194.1" x2="419.53" y2="201.1" stroke="#9030e8" stroke-width="0.75" />
<circle cx="427.57" cy="189.6" r="3.5" fill="#fdf6fb" fill-opacity="0.55" stroke="#9030e8" stroke-width="0.75"/>
<line x1="424.07" y1="189.6" x2="431.07" y2="189.6" stroke="#9030e8" stroke-width="0.75" />
<line x1="427.57" y1="186.1" x2="427.57" y2="193.1" stroke="#9030e8" stroke-width="0.75" />
<circle cx="428.88" cy="188.2" r="3.5" fill="#fdf6fb" fill-opacity="0.55" stroke="#9030e8" stroke-width="0.75"/>
<line x1="425.38" y1="188.2" x2="432.38" y2="188.2" stroke="#9030e8" stroke-width="0.75" />
<line x1="428.88" y1="184.7" x2="428.88" y2="191.7" stroke="#9030e8" stroke-width="0.75" />
<circle cx="435.36" cy="182.2" r="3.5" fill="#fdf6fb" fill-opacity="0.55" stroke="#9030e8" stroke-width="0.75"/>
<line x1="431.86" y1="182.2" x2="438.86" y2="182.2" stroke="#9030e8" stroke-width="0.75" />
<line x1="435.36" y1="178.7" x2="435.36" y2="185.7" stroke="#9030e8" stroke-width="0.75" />
<circle cx="436.84" cy="180.5" r="3.5" fill="#fdf6fb" fill-opacity="0.55" stroke="#9030e8" stroke-width="0.75"/>
<line x1="433.34" y1="180.5" x2="440.34" y2="180.5" stroke="#9030e8" stroke-width="0.75" />
<line x1="436.84" y1="177" x2="436.84" y2="184" stroke="#9030e8" stroke-width="0.75" />
<circle cx="445.06" cy="172.3" r="3.5" fill="#fdf6fb" fill-opacity="0.55" stroke="#9030e8" stroke-width="0.75"/>
<line x1="441.56" y1="172.3" x2="448.56" y2="172.3" stroke="#9030e8" stroke-width="0.75" />
<line x1="445.06" y1="168.8" x2="445.06" y2="175.8" stroke="#9030e8" stroke-width="0.75" />
<circle cx="446.81" cy="171" r="3.5" fill="#fdf6fb" fill-opacity="0.55" stroke="#9030e8" stroke-width="0.75"/>
<line x1="443.31" y1="171" x2="450.31" y2="171" stroke="#9030e8" stroke-width="0.75" />
<line x1="446.81" y1="167.5" x2="446.81" y2="174.5" stroke="#9030e8" stroke-width="0.75" />
<circle cx="453.72" cy="164" r="3.5" fill="#fdf6fb" fill-opacity="0.55" stroke="#9030e8" stroke-width="0.75"/>
<line x1="450.22" y1="164" x2="457.22" y2="164" stroke="#9030e8" stroke-width="0.75" />
<line x1="453.72" y1="160.5" x2="453.72" y2="167.5" stroke="#9030e8" stroke-width="0.75" />
<circle cx="461.24" cy="156" r="3.5" fill="#fdf6fb" fill-opacity="0.55" stroke="#9030e8" stroke-width="0.75"/>
<line x1="457.74" y1="156" x2="464.74" y2="156" stroke="#9030e8" stroke-width="0.75" />
<line x1="461.24" y1="152.5" x2="461.24" y2="159.5" stroke="#9030e8" stroke-width="0.75" />
<circle cx="480.74" cy="136.8" r="3.5" fill="#fdf6fb" fill-opacity="0.55" stroke="#9030e8" stroke-width="0.75"/>
<line x1="477.24" y1="136.8" x2="484.24" y2="136.8" stroke="#9030e8" stroke-width="0.75" />
<line x1="480.74" y1="133.3" x2="480.74" y2="140.3" stroke="#9030e8" stroke-width="0.75" />
<circle cx="486.08" cy="165.6" r="3.5" fill="#fdf6fb" fill-opacity="0.55" stroke="#9030e8" stroke-width="0.75"/>
<line x1="482.58" y1="165.6" x2="489.58" y2="165.6" stroke="#9030e8" stroke-width="0.75" />
<line x1="486.08" y1="162.1" x2="486.08" y2="169.1" stroke="#9030e8" stroke-width="0.75" />
<circle cx="557.62" cy="99.58" r="3.5" fill="#fdf6fb" fill-opacity="0.55" stroke="#9030e8" stroke-width="0.75"/>
<line x1="554.12" y1="99.58" x2="561.12" y2="99.58" stroke="#9030e8" stroke-width="0.75" />
<line x1="557.62" y1="96.08" x2="557.62" y2="103.08" stroke="#9030e8" stroke-width="0.75" />
<circle cx="563.38" cy="94.34" r="3.5" fill="#fdf6fb" fill-opacity="0.55" stroke="#9030e8" stroke-width="0.75"/>
<line x1="559.88" y1="94.34" x2="566.88" y2="94.34" stroke="#9030e8" stroke-width="0.75" />
<line x1="563.38" y1="90.84" x2="563.38" y2="97.84" stroke="#9030e8" stroke-width="0.75" />
<circle cx="573.56" cy="87.16" r="3.5" fill="#fdf6fb" fill-opacity="0.55" stroke="#9030e8" stroke-width="0.75"/>
<line x1="570.06" y1="87.16" x2="577.06" y2="87.16" stroke="#9030e8" stroke-width="0.75" />
<line x1="573.56" y1="83.66" x2="573.56" y2="90.66" stroke="#9030e8" stroke-width="0.75" />
<circle cx="596.32" cy="72.2" r="3.5" fill="#fdf6fb" fill-opacity="0.55" stroke="#9030e8" stroke-width="0.75"/>
<line x1="592.82" y1="72.2" x2="599.82" y2="72.2" stroke="#9030e8" stroke-width="0.75" />
<line x1="596.32" y1="68.7" x2="596.32" y2="75.7" stroke="#9030e8" stroke-width="0.75" />
<circle cx="612.59" cy="63.74" r="3.5" fill="#fdf6fb" fill-opacity="0.55" stroke="#9030e8" stroke-width="0.75"/>
<line x1="609.09" y1="63.74" x2="616.09" y2="63.74" stroke="#9030e8" stroke-width="0.75" />
<line x1="612.59" y1="60.24" x2="612.59" y2="67.24" stroke="#9030e8" stroke-width="0.75" />
<circle cx="648.66" cy="49.52" r="3.5" fill="#fdf6fb" fill-opacity="0.55" stroke="#9030e8" stroke-width="0.75"/>
<line x1="645.16" y1="49.52" x2="652.16" y2="49.52" stroke="#9030e8" stroke-width="0.75" />
<line x1="648.66" y1="46.02" x2="648.66" y2="53.02" stroke="#9030e8" stroke-width="0.75" />
<circle cx="653.87" cy="48.02" r="3.5" fill="#fdf6fb" fill-opacity="0.55" stroke="#9030e8" stroke-width="0.75"/>
<line x1="650.37" y1="48.02" x2="657.37" y2="48.02" stroke="#9030e8" stroke-width="0.75" />
<line x1="653.87" y1="44.52" x2="653.87" y2="51.52" stroke="#9030e8" stroke-width="0.75" />
<circle cx="656.68" cy="47.28" r="3.5" fill="#fdf6fb" fill-opacity="0.55" stroke="#9030e8" stroke-width="0.75"/>
<line x1="653.18" y1="47.28" x2="660.18" y2="47.28" stroke="#9030e8" stroke-width="0.75" />
<line x1="656.68" y1="43.78" x2="656.68" y2="50.78" stroke="#9030e8" stroke-width="0.75" />
<polygon points="419.6,93.1 423.78,96.14 422.19,101.06 417.01,101.06 415.42,96.14" fill="#fff"/>
<polygon points="419.6,93.1 420.13,93.48 420.13,101.06 417.01,101.06 415.42,96.14" fill="#178a78"/>
<polygon points="419.6,93.1 423.78,96.14 422.19,101.06 417.01,101.06 415.42,96.14" fill="none" stroke="#178a78" stroke-width="0.8"/>
<polygon points="427.6,85.5 431.78,88.54 430.19,93.46 425.01,93.46 423.42,88.54" fill="#fff"/>
<polygon points="427.6,85.5 428.13,85.88 428.13,93.46 425.01,93.46 423.42,88.54" fill="#178a78"/>
<polygon points="427.6,85.5 431.78,88.54 430.19,93.46 425.01,93.46 423.42,88.54" fill="none" stroke="#178a78" stroke-width="0.8"/>
<polygon points="436.6,76.6 440.78,79.64 439.19,84.56 434.01,84.56 432.42,79.64" fill="#fff"/>
<polygon points="436.6,76.6 437.13,76.98 437.13,84.56 434.01,84.56 432.42,79.64" fill="#178a78"/>
<polygon points="436.6,76.6 440.78,79.64 439.19,84.56 434.01,84.56 432.42,79.64" fill="none" stroke="#178a78" stroke-width="0.8"/>
<polygon points="446,94.6 450.18,97.64 448.59,102.56 443.41,102.56 441.82,97.64" fill="#fff"/>
<polygon points="446,94.6 446.53,94.98 446.53,102.56 443.41,102.56 441.82,97.64" fill="#178a78"/>
<polygon points="446,94.6 450.18,97.64 448.59,102.56 443.41,102.56 441.82,97.64" fill="none" stroke="#178a78" stroke-width="0.8"/>
<polygon points="453.8,86.9 457.98,89.94 456.39,94.86 451.21,94.86 449.62,89.94" fill="#fff"/>
<polygon points="453.8,86.9 454.33,87.28 454.33,94.86 451.21,94.86 449.62,89.94" fill="#178a78"/>
<polygon points="453.8,86.9 457.98,89.94 456.39,94.86 451.21,94.86 449.62,89.94" fill="none" stroke="#178a78" stroke-width="0.8"/>
<polygon points="461.3,79.9 465.48,82.94 463.89,87.86 458.71,87.86 457.12,82.94" fill="#fff"/>
<polygon points="461.3,79.9 461.83,80.28 461.83,87.86 458.71,87.86 457.12,82.94" fill="#178a78"/>
<polygon points="461.3,79.9 465.48,82.94 463.89,87.86 458.71,87.86 457.12,82.94" fill="none" stroke="#178a78" stroke-width="0.8"/>
<polygon points="480.3,64.2 484.48,67.24 482.89,72.16 477.71,72.16 476.12,67.24" fill="#fff"/>
<polygon points="480.3,64.2 480.83,64.58 480.83,72.16 477.71,72.16 476.12,67.24" fill="#178a78"/>
<polygon points="480.3,64.2 484.48,67.24 482.89,72.16 477.71,72.16 476.12,67.24" fill="none" stroke="#178a78" stroke-width="0.8"/>
<polygon points="485.9,60 490.08,63.04 488.49,67.96 483.31,67.96 481.72,63.04" fill="#fff"/>
<polygon points="485.9,60 486.43,60.38 486.43,67.96 483.31,67.96 481.72,63.04" fill="#178a78"/>
<polygon points="485.9,60 490.08,63.04 488.49,67.96 483.31,67.96 481.72,63.04" fill="none" stroke="#178a78" stroke-width="0.8"/>
<polygon points="557.62,25.2 561.81,28.24 560.21,33.16 555.04,33.16 553.44,28.24" fill="#fff"/>
<polygon points="557.62,25.2 558.15,25.58 558.15,33.16 555.04,33.16 553.44,28.24" fill="#178a78"/>
<polygon points="557.62,25.2 561.81,28.24 560.21,33.16 555.04,33.16 553.44,28.24" fill="none" stroke="#178a78" stroke-width="0.8"/>
<polygon points="563.38,23.8 567.56,26.84 565.96,31.76 560.79,31.76 559.19,26.84" fill="#fff"/>
<polygon points="563.38,23.8 563.91,24.18 563.91,31.76 560.79,31.76 559.19,26.84" fill="#178a78"/>
<polygon points="563.38,23.8 567.56,26.84 565.96,31.76 560.79,31.76 559.19,26.84" fill="none" stroke="#178a78" stroke-width="0.8"/>
<polygon points="573.56,22 577.74,25.04 576.15,29.96 570.97,29.96 569.38,25.04" fill="#fff"/>
<polygon points="573.56,22 574.09,22.38 574.09,29.96 570.97,29.96 569.38,25.04" fill="#178a78"/>
<polygon points="573.56,22 577.74,25.04 576.15,29.96 570.97,29.96 569.38,25.04" fill="none" stroke="#178a78" stroke-width="0.8"/>
<polygon points="596.32,17.2 600.51,20.24 598.91,25.16 593.73,25.16 592.14,20.24" fill="#fff"/>
<polygon points="596.32,17.2 596.85,17.58 596.85,25.16 593.73,25.16 592.14,20.24" fill="#178a78"/>
<polygon points="596.32,17.2 600.51,20.24 598.91,25.16 593.73,25.16 592.14,20.24" fill="none" stroke="#178a78" stroke-width="0.8"/>
<polygon points="612.59,13.9 616.78,16.94 615.18,21.86 610.01,21.86 608.41,16.94" fill="#fff"/>
<polygon points="612.59,13.9 613.12,14.28 613.12,21.86 610.01,21.86 608.41,16.94" fill="#178a78"/>
<polygon points="612.59,13.9 616.78,16.94 615.18,21.86 610.01,21.86 608.41,16.94" fill="none" stroke="#178a78" stroke-width="0.8"/>
<polygon points="648.66,7.1 652.84,10.14 651.25,15.06 646.07,15.06 644.47,10.14" fill="#fff"/>
<polygon points="648.66,7.1 649.19,7.48 649.19,15.06 646.07,15.06 644.47,10.14" fill="#178a78"/>
<polygon points="648.66,7.1 652.84,10.14 651.25,15.06 646.07,15.06 644.47,10.14" fill="none" stroke="#178a78" stroke-width="0.8"/>
<polygon points="653.87,6 658.06,9.04 656.46,13.96 651.29,13.96 649.69,9.04" fill="#fff"/>
<polygon points="653.87,6 654.4,6.38 654.4,13.96 651.29,13.96 649.69,9.04" fill="#178a78"/>
<polygon points="653.87,6 658.06,9.04 656.46,13.96 651.29,13.96 649.69,9.04" fill="none" stroke="#178a78" stroke-width="0.8"/>
<polygon points="656.68,5.5 660.86,8.54 659.26,13.46 654.09,13.46 652.49,8.54" fill="#fff"/>
<polygon points="656.68,5.5 657.2,5.88 657.2,13.46 654.09,13.46 652.49,8.54" fill="#178a78"/>
<polygon points="656.68,5.5 660.86,8.54 659.26,13.46 654.09,13.46 652.49,8.54" fill="none" stroke="#178a78" stroke-width="0.8"/>
<polygon points="419.53,160.86 423.33,167.26 415.73,167.26" fill="none" stroke="#2a8a3a" stroke-width="0.75" stroke-linejoin="miter"/>
<line x1="419.53" y1="160.86" x2="419.53" y2="167.86" stroke="#2a8a3a" stroke-width="0.7" />
<line x1="418.01" y1="163.42" x2="421.05" y2="163.42" stroke="#2a8a3a" stroke-width="0.7" />
<line x1="417.06" y1="165.02" x2="422" y2="165.02" stroke="#2a8a3a" stroke-width="0.7" />
<line x1="416.11" y1="166.62" x2="422.95" y2="166.62" stroke="#2a8a3a" stroke-width="0.7" />
<polygon points="427.57,152.96 431.37,159.36 423.77,159.36" fill="none" stroke="#2a8a3a" stroke-width="0.75" stroke-linejoin="miter"/>
<line x1="427.57" y1="152.96" x2="427.57" y2="159.96" stroke="#2a8a3a" stroke-width="0.7" />
<line x1="426.05" y1="155.52" x2="429.09" y2="155.52" stroke="#2a8a3a" stroke-width="0.7" />
<line x1="425.1" y1="157.12" x2="430.04" y2="157.12" stroke="#2a8a3a" stroke-width="0.7" />
<line x1="424.15" y1="158.72" x2="430.99" y2="158.72" stroke="#2a8a3a" stroke-width="0.7" />
<polygon points="428.88,151.76 432.68,158.16 425.08,158.16" fill="none" stroke="#2a8a3a" stroke-width="0.75" stroke-linejoin="miter"/>
<line x1="428.88" y1="151.76" x2="428.88" y2="158.76" stroke="#2a8a3a" stroke-width="0.7" />
<line x1="427.36" y1="154.32" x2="430.4" y2="154.32" stroke="#2a8a3a" stroke-width="0.7" />
<line x1="426.41" y1="155.92" x2="431.35" y2="155.92" stroke="#2a8a3a" stroke-width="0.7" />
<line x1="425.46" y1="157.52" x2="432.3" y2="157.52" stroke="#2a8a3a" stroke-width="0.7" />
<polygon points="435.36,144.86 439.16,151.26 431.56,151.26" fill="none" stroke="#2a8a3a" stroke-width="0.75" stroke-linejoin="miter"/>
<line x1="435.36" y1="144.86" x2="435.36" y2="151.86" stroke="#2a8a3a" stroke-width="0.7" />
<line x1="433.84" y1="147.42" x2="436.88" y2="147.42" stroke="#2a8a3a" stroke-width="0.7" />
<line x1="432.89" y1="149.02" x2="437.83" y2="149.02" stroke="#2a8a3a" stroke-width="0.7" />
<line x1="431.94" y1="150.62" x2="438.78" y2="150.62" stroke="#2a8a3a" stroke-width="0.7" />
<polygon points="436.84,143.76 440.64,150.16 433.04,150.16" fill="none" stroke="#2a8a3a" stroke-width="0.75" stroke-linejoin="miter"/>
<line x1="436.84" y1="143.76" x2="436.84" y2="150.76" stroke="#2a8a3a" stroke-width="0.7" />
<line x1="435.32" y1="146.32" x2="438.36" y2="146.32" stroke="#2a8a3a" stroke-width="0.7" />
<line x1="434.37" y1="147.92" x2="439.31" y2="147.92" stroke="#2a8a3a" stroke-width="0.7" />
<line x1="433.42" y1="149.52" x2="440.26" y2="149.52" stroke="#2a8a3a" stroke-width="0.7" />
<polygon points="445.06,135.76 448.86,142.16 441.26,142.16" fill="none" stroke="#2a8a3a" stroke-width="0.75" stroke-linejoin="miter"/>
<line x1="445.06" y1="135.76" x2="445.06" y2="142.76" stroke="#2a8a3a" stroke-width="0.7" />
<line x1="443.54" y1="138.32" x2="446.58" y2="138.32" stroke="#2a8a3a" stroke-width="0.7" />
<line x1="442.59" y1="139.92" x2="447.53" y2="139.92" stroke="#2a8a3a" stroke-width="0.7" />
<line x1="441.64" y1="141.52" x2="448.48" y2="141.52" stroke="#2a8a3a" stroke-width="0.7" />
<polygon points="446.81,134.56 450.61,140.96 443.01,140.96" fill="none" stroke="#2a8a3a" stroke-width="0.75" stroke-linejoin="miter"/>
<line x1="446.81" y1="134.56" x2="446.81" y2="141.56" stroke="#2a8a3a" stroke-width="0.7" />
<line x1="445.29" y1="137.12" x2="448.33" y2="137.12" stroke="#2a8a3a" stroke-width="0.7" />
<line x1="444.34" y1="138.72" x2="449.28" y2="138.72" stroke="#2a8a3a" stroke-width="0.7" />
<line x1="443.39" y1="140.32" x2="450.23" y2="140.32" stroke="#2a8a3a" stroke-width="0.7" />
<polygon points="453.72,125.96 457.52,132.36 449.92,132.36" fill="none" stroke="#2a8a3a" stroke-width="0.75" stroke-linejoin="miter"/>
<line x1="453.72" y1="125.96" x2="453.72" y2="132.96" stroke="#2a8a3a" stroke-width="0.7" />
<line x1="452.2" y1="128.52" x2="455.24" y2="128.52" stroke="#2a8a3a" stroke-width="0.7" />
<line x1="451.25" y1="130.12" x2="456.19" y2="130.12" stroke="#2a8a3a" stroke-width="0.7" />
<line x1="450.3" y1="131.72" x2="457.14" y2="131.72" stroke="#2a8a3a" stroke-width="0.7" />
<polygon points="461.24,118.36 465.04,124.76 457.44,124.76" fill="none" stroke="#2a8a3a" stroke-width="0.75" stroke-linejoin="miter"/>
<line x1="461.24" y1="118.36" x2="461.24" y2="125.36" stroke="#2a8a3a" stroke-width="0.7" />
<line x1="459.72" y1="120.92" x2="462.76" y2="120.92" stroke="#2a8a3a" stroke-width="0.7" />
<line x1="458.77" y1="122.52" x2="463.71" y2="122.52" stroke="#2a8a3a" stroke-width="0.7" />
<line x1="457.82" y1="124.12" x2="464.66" y2="124.12" stroke="#2a8a3a" stroke-width="0.7" />
<polygon points="480.74,99.46 484.54,105.86 476.94,105.86" fill="none" stroke="#2a8a3a" stroke-width="0.75" stroke-linejoin="miter"/>
<line x1="480.74" y1="99.46" x2="480.74" y2="106.46" stroke="#2a8a3a" stroke-width="0.7" />
<line x1="479.22" y1="102.02" x2="482.26" y2="102.02" stroke="#2a8a3a" stroke-width="0.7" />
<line x1="478.27" y1="103.62" x2="483.21" y2="103.62" stroke="#2a8a3a" stroke-width="0.7" />
<line x1="477.32" y1="105.22" x2="484.16" y2="105.22" stroke="#2a8a3a" stroke-width="0.7" />
<polygon points="486.08,96.36 489.88,102.76 482.28,102.76" fill="none" stroke="#2a8a3a" stroke-width="0.75" stroke-linejoin="miter"/>
<line x1="486.08" y1="96.36" x2="486.08" y2="103.36" stroke="#2a8a3a" stroke-width="0.7" />
<line x1="484.56" y1="98.92" x2="487.6" y2="98.92" stroke="#2a8a3a" stroke-width="0.7" />
<line x1="483.61" y1="100.52" x2="488.55" y2="100.52" stroke="#2a8a3a" stroke-width="0.7" />
<line x1="482.66" y1="102.12" x2="489.5" y2="102.12" stroke="#2a8a3a" stroke-width="0.7" />
<polygon points="557.62,56.34 561.42,62.74 553.82,62.74" fill="none" stroke="#2a8a3a" stroke-width="0.75" stroke-linejoin="miter"/>
<line x1="557.62" y1="56.34" x2="557.62" y2="63.34" stroke="#2a8a3a" stroke-width="0.7" />
<line x1="556.1" y1="58.9" x2="559.14" y2="58.9" stroke="#2a8a3a" stroke-width="0.7" />
<line x1="555.15" y1="60.5" x2="560.09" y2="60.5" stroke="#2a8a3a" stroke-width="0.7" />
<line x1="554.2" y1="62.1" x2="561.04" y2="62.1" stroke="#2a8a3a" stroke-width="0.7" />
<polygon points="563.38,54.39 567.18,60.79 559.58,60.79" fill="none" stroke="#2a8a3a" stroke-width="0.75" stroke-linejoin="miter"/>
<line x1="563.38" y1="54.39" x2="563.38" y2="61.39" stroke="#2a8a3a" stroke-width="0.7" />
<line x1="561.86" y1="56.95" x2="564.9" y2="56.95" stroke="#2a8a3a" stroke-width="0.7" />
<line x1="560.91" y1="58.55" x2="565.85" y2="58.55" stroke="#2a8a3a" stroke-width="0.7" />
<line x1="559.96" y1="60.15" x2="566.8" y2="60.15" stroke="#2a8a3a" stroke-width="0.7" />
<polygon points="573.56,52.1 577.36,58.5 569.76,58.5" fill="none" stroke="#2a8a3a" stroke-width="0.75" stroke-linejoin="miter"/>
<line x1="573.56" y1="52.1" x2="573.56" y2="59.1" stroke="#2a8a3a" stroke-width="0.7" />
<line x1="572.04" y1="54.66" x2="575.08" y2="54.66" stroke="#2a8a3a" stroke-width="0.7" />
<line x1="571.09" y1="56.26" x2="576.03" y2="56.26" stroke="#2a8a3a" stroke-width="0.7" />
<line x1="570.14" y1="57.86" x2="576.98" y2="57.86" stroke="#2a8a3a" stroke-width="0.7" />
<polygon points="596.32,47.47 600.12,53.87 592.52,53.87" fill="none" stroke="#2a8a3a" stroke-width="0.75" stroke-linejoin="miter"/>
<line x1="596.32" y1="47.47" x2="596.32" y2="54.47" stroke="#2a8a3a" stroke-width="0.7" />
<line x1="594.8" y1="50.03" x2="597.84" y2="50.03" stroke="#2a8a3a" stroke-width="0.7" />
<line x1="593.85" y1="51.63" x2="598.79" y2="51.63" stroke="#2a8a3a" stroke-width="0.7" />
<line x1="592.9" y1="53.23" x2="599.74" y2="53.23" stroke="#2a8a3a" stroke-width="0.7" />
<polygon points="612.59,44.53 616.39,50.93 608.79,50.93" fill="none" stroke="#2a8a3a" stroke-width="0.75" stroke-linejoin="miter"/>
<line x1="612.59" y1="44.53" x2="612.59" y2="51.53" stroke="#2a8a3a" stroke-width="0.7" />
<line x1="611.07" y1="47.09" x2="614.11" y2="47.09" stroke="#2a8a3a" stroke-width="0.7" />
<line x1="610.12" y1="48.69" x2="615.06" y2="48.69" stroke="#2a8a3a" stroke-width="0.7" />
<line x1="609.17" y1="50.29" x2="616.01" y2="50.29" stroke="#2a8a3a" stroke-width="0.7" />
<polygon points="648.66,37.22 652.46,43.62 644.86,43.62" fill="none" stroke="#2a8a3a" stroke-width="0.75" stroke-linejoin="miter"/>
<line x1="648.66" y1="37.22" x2="648.66" y2="44.22" stroke="#2a8a3a" stroke-width="0.7" />
<line x1="647.14" y1="39.78" x2="650.18" y2="39.78" stroke="#2a8a3a" stroke-width="0.7" />
<line x1="646.19" y1="41.38" x2="651.13" y2="41.38" stroke="#2a8a3a" stroke-width="0.7" />
<line x1="645.24" y1="42.98" x2="652.08" y2="42.98" stroke="#2a8a3a" stroke-width="0.7" />
<polygon points="653.87,36.3 657.67,42.7 650.07,42.7" fill="none" stroke="#2a8a3a" stroke-width="0.75" stroke-linejoin="miter"/>
<line x1="653.87" y1="36.3" x2="653.87" y2="43.3" stroke="#2a8a3a" stroke-width="0.7" />
<line x1="652.35" y1="38.86" x2="655.39" y2="38.86" stroke="#2a8a3a" stroke-width="0.7" />
<line x1="651.4" y1="40.46" x2="656.34" y2="40.46" stroke="#2a8a3a" stroke-width="0.7" />
<line x1="650.45" y1="42.06" x2="657.29" y2="42.06" stroke="#2a8a3a" stroke-width="0.7" />
<polygon points="656.68,35.71 660.48,42.11 652.88,42.11" fill="none" stroke="#2a8a3a" stroke-width="0.75" stroke-linejoin="miter"/>
<line x1="656.68" y1="35.71" x2="656.68" y2="42.71" stroke="#2a8a3a" stroke-width="0.7" />
<line x1="655.16" y1="38.27" x2="658.2" y2="38.27" stroke="#2a8a3a" stroke-width="0.7" />
<line x1="654.21" y1="39.87" x2="659.15" y2="39.87" stroke="#2a8a3a" stroke-width="0.7" />
<line x1="653.26" y1="41.47" x2="660.1" y2="41.47" stroke="#2a8a3a" stroke-width="0.7" />
</g>
<rect x="570.3" y="30" width="94.3" height="47.5" fill="none" stroke="#3a3a3a" stroke-width="1.3" stroke-dasharray="6.3 2.6 1.2 2.6"/>
<line x1="616.5" y1="77.5" x2="616.5" y2="105" stroke="#222" stroke-width="1.3" stroke-dasharray="6.3 2.6 1.2 2.6"/>
<polygon points="616.5,111 614.2,104.6 618.8,104.6" fill="#111"/>
<rect x="392.6" y="2.5" width="289.29999999999995" height="213.8" fill="none" stroke="#1e1e1e" stroke-width="1.2"/>
<line x1="388.1" y1="49.5" x2="392.6" y2="49.5" stroke="#000" stroke-width="1.2" />
<text x="385.6" y="53.8" font-size="10.2" font-weight="bold" text-anchor="end">10<tspan font-size="6" dx="0.3" dy="-5.5">0</tspan></text>
<line x1="390.1" y1="88.41" x2="392.6" y2="88.41" stroke="#000" stroke-width="0.9" />
<line x1="390.1" y1="78.61" x2="392.6" y2="78.61" stroke="#000" stroke-width="0.9" />
<line x1="390.1" y1="71.65" x2="392.6" y2="71.65" stroke="#000" stroke-width="0.9" />
<line x1="390.1" y1="66.26" x2="392.6" y2="66.26" stroke="#000" stroke-width="0.9" />
<line x1="390.1" y1="61.85" x2="392.6" y2="61.85" stroke="#000" stroke-width="0.9" />
<line x1="390.1" y1="58.12" x2="392.6" y2="58.12" stroke="#000" stroke-width="0.9" />
<line x1="390.1" y1="54.89" x2="392.6" y2="54.89" stroke="#000" stroke-width="0.9" />
<line x1="390.1" y1="52.05" x2="392.6" y2="52.05" stroke="#000" stroke-width="0.9" />
<line x1="388.1" y1="105.17" x2="392.6" y2="105.17" stroke="#000" stroke-width="1.2" />
<text x="385.6" y="109.47" font-size="10.2" font-weight="bold" text-anchor="end">10<tspan font-size="6" dx="0.3" dy="-5.5">-1</tspan></text>
<line x1="390.1" y1="144.08" x2="392.6" y2="144.08" stroke="#000" stroke-width="0.9" />
<line x1="390.1" y1="134.28" x2="392.6" y2="134.28" stroke="#000" stroke-width="0.9" />
<line x1="390.1" y1="127.32" x2="392.6" y2="127.32" stroke="#000" stroke-width="0.9" />
<line x1="390.1" y1="121.93" x2="392.6" y2="121.93" stroke="#000" stroke-width="0.9" />
<line x1="390.1" y1="117.52" x2="392.6" y2="117.52" stroke="#000" stroke-width="0.9" />
<line x1="390.1" y1="113.79" x2="392.6" y2="113.79" stroke="#000" stroke-width="0.9" />
<line x1="390.1" y1="110.56" x2="392.6" y2="110.56" stroke="#000" stroke-width="0.9" />
<line x1="390.1" y1="107.72" x2="392.6" y2="107.72" stroke="#000" stroke-width="0.9" />
<line x1="388.1" y1="160.84" x2="392.6" y2="160.84" stroke="#000" stroke-width="1.2" />
<text x="385.6" y="165.14" font-size="10.2" font-weight="bold" text-anchor="end">10<tspan font-size="6" dx="0.3" dy="-5.5">-2</tspan></text>
<line x1="390.1" y1="199.75" x2="392.6" y2="199.75" stroke="#000" stroke-width="0.9" />
<line x1="390.1" y1="189.95" x2="392.6" y2="189.95" stroke="#000" stroke-width="0.9" />
<line x1="390.1" y1="182.99" x2="392.6" y2="182.99" stroke="#000" stroke-width="0.9" />
<line x1="390.1" y1="177.6" x2="392.6" y2="177.6" stroke="#000" stroke-width="0.9" />
<line x1="390.1" y1="173.19" x2="392.6" y2="173.19" stroke="#000" stroke-width="0.9" />
<line x1="390.1" y1="169.46" x2="392.6" y2="169.46" stroke="#000" stroke-width="0.9" />
<line x1="390.1" y1="166.23" x2="392.6" y2="166.23" stroke="#000" stroke-width="0.9" />
<line x1="390.1" y1="163.39" x2="392.6" y2="163.39" stroke="#000" stroke-width="0.9" />
<line x1="388.1" y1="216.51" x2="392.6" y2="216.51" stroke="#000" stroke-width="1.2" />
<text x="385.6" y="220.81" font-size="10.2" font-weight="bold" text-anchor="end">10<tspan font-size="6" dx="0.3" dy="-5.5">-3</tspan></text>
<line x1="390.1" y1="32.74" x2="392.6" y2="32.74" stroke="#000" stroke-width="0.9" />
<line x1="390.1" y1="22.94" x2="392.6" y2="22.94" stroke="#000" stroke-width="0.9" />
<line x1="390.1" y1="15.98" x2="392.6" y2="15.98" stroke="#000" stroke-width="0.9" />
<line x1="390.1" y1="10.59" x2="392.6" y2="10.59" stroke="#000" stroke-width="0.9" />
<line x1="390.1" y1="6.18" x2="392.6" y2="6.18" stroke="#000" stroke-width="0.9" />
<line x1="493.6" y1="216.3" x2="493.6" y2="220.8" stroke="#000" stroke-width="1.2" />
<line x1="638.6" y1="216.3" x2="638.6" y2="220.8" stroke="#000" stroke-width="1.2" />
<line x1="417.78" y1="216.3" x2="417.78" y2="218.9" stroke="#000" stroke-width="1" />
<line x1="435.9" y1="216.3" x2="435.9" y2="218.9" stroke="#000" stroke-width="1" />
<line x1="449.95" y1="216.3" x2="449.95" y2="218.9" stroke="#000" stroke-width="1" />
<line x1="461.43" y1="216.3" x2="461.43" y2="218.9" stroke="#000" stroke-width="1" />
<line x1="471.14" y1="216.3" x2="471.14" y2="218.9" stroke="#000" stroke-width="1" />
<line x1="479.55" y1="216.3" x2="479.55" y2="218.9" stroke="#000" stroke-width="1" />
<line x1="486.97" y1="216.3" x2="486.97" y2="218.9" stroke="#000" stroke-width="1" />
<line x1="537.25" y1="216.3" x2="537.25" y2="218.9" stroke="#000" stroke-width="1" />
<line x1="562.78" y1="216.3" x2="562.78" y2="218.9" stroke="#000" stroke-width="1" />
<line x1="580.9" y1="216.3" x2="580.9" y2="218.9" stroke="#000" stroke-width="1" />
<line x1="594.95" y1="216.3" x2="594.95" y2="218.9" stroke="#000" stroke-width="1" />
<line x1="606.43" y1="216.3" x2="606.43" y2="218.9" stroke="#000" stroke-width="1" />
<line x1="616.14" y1="216.3" x2="616.14" y2="218.9" stroke="#000" stroke-width="1" />
<line x1="624.55" y1="216.3" x2="624.55" y2="218.9" stroke="#000" stroke-width="1" />
<line x1="631.97" y1="216.3" x2="631.97" y2="218.9" stroke="#000" stroke-width="1" />
<text x="493.7" y="231.5" font-size="10.2" font-weight="bold" font-style="normal" text-anchor="middle" fill="#000" >100</text>
<text x="638.6" y="231.4" font-size="10.2" font-weight="bold" font-style="normal" text-anchor="middle" fill="#000" >1000</text>
<text x="537.4" y="247.2" font-size="10.3" font-weight="bold" font-style="normal" text-anchor="middle" fill="#000" >Incident Photon Energy (keV)</text>
<text transform="translate(359.3,108.85) rotate(-90)" font-size="10.5" font-weight="bold" text-anchor="middle">Half Value Layer (HVL; <tspan font-style="italic">X</tspan><tspan font-size="6.5" dy="2">1/2</tspan><tspan dy="-2"> ; cm)</tspan></text>
<rect x="397.4" y="7.2" width="74.8" height="66.4" fill="#000"/>
<rect x="393.4" y="3" width="75.9" height="67.2" fill="#fff" stroke="#666" stroke-width="0.6"/>
<line x1="398.4" y1="9" x2="413.3" y2="9" stroke="#000" stroke-width="1.1" />
<circle cx="406" cy="9" r="2.4800000000000004" fill="#fff"/>
<path d="M406,6.52 A2.4800000000000004,2.4800000000000004 0 0 1 406,11.48 Z" fill="#000"/>
<circle cx="406" cy="9" r="2.4800000000000004" fill="none" stroke="#000" stroke-width="0.8"/>
<text x="415.7" y="11.3" font-size="6.3" font-weight="bold" font-style="normal" text-anchor="start" fill="#111" >Tin-Silver Exp.</text>
<line x1="398.4" y1="17.2" x2="413.3" y2="17.2" stroke="#ff2020" stroke-width="1.1" />
<polygon points="406,13.76 406.85,16.04 409.27,16.14 407.37,17.64 408.02,19.98 406,18.64 403.98,19.98 404.63,17.64 402.73,16.14 405.15,16.04" fill="#fff"/>
<polygon points="406,18.64 403.98,19.98 404.63,17.64 402.73,16.14 405.15,16.04 406,13.76" fill="#ff0000"/>
<polygon points="406,13.76 406.85,16.04 409.27,16.14 407.37,17.64 408.02,19.98 406,18.64 403.98,19.98 404.63,17.64 402.73,16.14 405.15,16.04" fill="none" stroke="#ff0000" stroke-width="0.7"/>
<text x="415.7" y="19.5" font-size="6.3" font-weight="bold" font-style="normal" text-anchor="start" fill="#111" >Manganin-R Exp.</text>
<line x1="398.4" y1="25.4" x2="413.3" y2="25.4" stroke="#1030ff" stroke-width="1.1" />
<circle cx="406" cy="25.4" r="3.12" fill="url(#gblu)"/>
<text x="415.7" y="27.7" font-size="6.3" font-weight="bold" font-style="normal" text-anchor="start" fill="#111" >Hastelloy-B Exp.</text>
<line x1="398.4" y1="33.6" x2="413.3" y2="33.6" stroke="#b4b45a" stroke-width="1.1" />
<circle cx="406" cy="33.6" r="2.4800000000000004" fill="#fffff0"/>
<path d="M403.52,33.6 A2.4800000000000004,2.4800000000000004 0 0 1 408.48,33.6 Z" fill="#8c8c30"/>
<circle cx="406" cy="33.6" r="2.4800000000000004" fill="none" stroke="#8c8c30" stroke-width="0.8"/>
<text x="415.7" y="35.9" font-size="6.3" font-weight="bold" font-style="normal" text-anchor="start" fill="#111" >Hastelloy-X Exp.</text>
<line x1="398.4" y1="41.8" x2="413.3" y2="41.8" stroke="#a01010" stroke-width="1.1" />
<polygon points="402.96,39.88 409.04,39.88 406,44.68" fill="#fff"/>
<polygon points="406,39.88 409.04,39.88 406,44.68" fill="#a00000"/>
<polygon points="402.96,39.88 409.04,39.88 406,44.68" fill="none" stroke="#a00000" stroke-width="0.8" stroke-linejoin="miter"/>
<text x="415.7" y="44.1" font-size="6.3" font-weight="bold" font-style="normal" text-anchor="start" fill="#111" >Dilver-P Exp.</text>
<line x1="398.4" y1="50" x2="413.3" y2="50" stroke="#7f1fe0" stroke-width="1.1" />
<circle cx="406" cy="50" r="2.8000000000000003" fill="#fdf6fb" fill-opacity="0.55" stroke="#9030e8" stroke-width="0.75"/>
<line x1="403.2" y1="50" x2="408.8" y2="50" stroke="#9030e8" stroke-width="0.75" />
<line x1="406" y1="47.2" x2="406" y2="52.8" stroke="#9030e8" stroke-width="0.75" />
<text x="415.7" y="52.3" font-size="6.3" font-weight="bold" font-style="normal" text-anchor="start" fill="#111" >Pb</text>
<line x1="398.4" y1="58.2" x2="413.3" y2="58.2" stroke="#178a78" stroke-width="1.1" />
<polygon points="406,54.68 409.35,57.11 408.07,61.05 403.93,61.05 402.65,57.11" fill="#fff"/>
<polygon points="406,54.68 406.42,54.99 406.42,61.05 403.93,61.05 402.65,57.11" fill="#178a78"/>
<polygon points="406,54.68 409.35,57.11 408.07,61.05 403.93,61.05 402.65,57.11" fill="none" stroke="#178a78" stroke-width="0.8"/>
<text x="415.7" y="60.5" font-size="6.3" font-weight="bold" font-style="normal" text-anchor="start" fill="#111" >Glass RS 253</text>
<line x1="398.4" y1="66.4" x2="413.3" y2="66.4" stroke="#3a9e4e" stroke-width="1.1" />
<polygon points="406,63.33 409.04,68.45 402.96,68.45" fill="none" stroke="#2a8a3a" stroke-width="0.75" stroke-linejoin="miter"/>
<line x1="406" y1="63.33" x2="406" y2="69.05" stroke="#2a8a3a" stroke-width="0.7" />
<line x1="404.78" y1="65.38" x2="407.22" y2="65.38" stroke="#2a8a3a" stroke-width="0.7" />
<line x1="404.02" y1="66.66" x2="407.98" y2="66.66" stroke="#2a8a3a" stroke-width="0.7" />
<line x1="403.26" y1="67.94" x2="408.74" y2="67.94" stroke="#2a8a3a" stroke-width="0.7" />
<text x="415.7" y="68.7" font-size="6.3" font-weight="bold" font-style="normal" text-anchor="start" fill="#111" >Cupero-Nickel</text>
<rect x="507" y="5.2" width="16.6" height="14.4" fill="#fff" stroke="#999" stroke-width="0.7"/>
<text x="515.3" y="16.6" font-size="10.9" font-weight="bold" font-style="normal" text-anchor="middle" fill="#000" >(b)</text>
<rect x="558.2" y="112.2" width="116.09999999999991" height="93.3" fill="#e4e4e4"/>
<line x1="564.5" y1="112.2" x2="564.5" y2="205.5" stroke="#c4c4c4" stroke-width="0.6" />
<line x1="575.45" y1="112.2" x2="575.45" y2="205.5" stroke="#c4c4c4" stroke-width="0.6" />
<line x1="586.4" y1="112.2" x2="586.4" y2="205.5" stroke="#c4c4c4" stroke-width="0.6" />
<line x1="597.35" y1="112.2" x2="597.35" y2="205.5" stroke="#c4c4c4" stroke-width="0.6" />
<line x1="608.3" y1="112.2" x2="608.3" y2="205.5" stroke="#c4c4c4" stroke-width="0.6" />
<line x1="619.25" y1="112.2" x2="619.25" y2="205.5" stroke="#c4c4c4" stroke-width="0.6" />
<line x1="630.2" y1="112.2" x2="630.2" y2="205.5" stroke="#c4c4c4" stroke-width="0.6" />
<line x1="641.15" y1="112.2" x2="641.15" y2="205.5" stroke="#c4c4c4" stroke-width="0.6" />
<line x1="652.1" y1="112.2" x2="652.1" y2="205.5" stroke="#c4c4c4" stroke-width="0.6" />
<line x1="663.05" y1="112.2" x2="663.05" y2="205.5" stroke="#c4c4c4" stroke-width="0.6" />
<line x1="558.2" y1="200.4" x2="674.3" y2="200.4" stroke="#c4c4c4" stroke-width="0.6" />
<line x1="558.2" y1="178.44" x2="674.3" y2="178.44" stroke="#c4c4c4" stroke-width="0.6" />
<line x1="558.2" y1="156.48" x2="674.3" y2="156.48" stroke="#c4c4c4" stroke-width="0.6" />
<line x1="558.2" y1="134.52" x2="674.3" y2="134.52" stroke="#c4c4c4" stroke-width="0.6" />
<g clip-path="url(#cRI)">
<polyline fill="none" stroke="#000" stroke-width="0.9"  points="524.08,222.23 524.54,222.18 524.62,222.16 525.04,222.1 525.15,222.1 525.77,221.98 525.91,221.96 526.51,221.8 527.25,221.61 529.63,220.49 530.42,220.16 550.97,194.55 553.86,190.36 559.68,183.58 576.65,165.54 593.15,155.22 649.17,123.38 660.26,120.8 666.61,115.41"/>
<polyline fill="none" stroke="#ff2020" stroke-width="0.9"  points="524.08,222.21 524.54,222.14 524.62,222.13 525.04,222.07 525.15,222.06 525.77,221.9 525.91,221.88 526.51,221.72 527.25,221.5 529.63,220.38 530.42,219.86 550.97,197.81 553.86,194.98 559.68,188.71 576.65,179.7 593.15,171.91 649.17,152.91 660.26,149.51 666.61,147.48"/>
<polyline fill="none" stroke="#1030ff" stroke-width="0.9"  points="524.08,222.05 524.54,221.92 524.62,221.9 525.04,221.78 525.15,221.75 525.77,221.46 525.91,221.41 526.51,221.02 527.25,220.55 529.63,218.29 530.42,217.39 550.97,190.47 553.86,188.29 559.68,183.93 576.65,174.32 593.15,167.19 649.17,147.48 660.26,145.99 666.61,142.48"/>
<polyline fill="none" stroke="#b4b45a" stroke-width="0.9"  points="524.08,221.9 524.54,221.71 524.62,221.68 525.04,221.5 525.15,221.45 525.77,221.11 525.91,221.03 526.51,220.59 527.25,219.94 529.63,216.75 530.42,215.76 550.97,184.28 553.86,182.18 559.68,177.36 576.65,167.37 593.15,159.58 649.17,137.98 660.26,134.47 666.61,132.76"/>
<polyline fill="none" stroke="#a01010" stroke-width="0.9"  points="524.08,221.8 524.54,221.54 524.62,221.5 525.04,221.22 525.15,221.16 525.77,220.64 525.91,220.54 526.51,219.87 527.25,218.94 529.63,214.85 530.42,213.65 550.97,183.75 553.86,181.66 559.68,176.68 576.65,167.79 593.15,161.2 649.17,140.39 660.26,136.99 666.61,135.01"/>
<polyline fill="none" stroke="#7f1fe0" stroke-width="0.9"  points="524.08,222.24 524.54,222.19 524.62,222.18 525.04,222.13 525.15,222.12 525.77,222.02 525.91,222 526.51,221.88 527.25,221.69 529.63,220.88 530.42,221.91 550.97,215.44 553.86,213.77 559.68,210.8 576.65,200.89 593.15,191.89 649.17,167.51 660.26,164 666.61,162.19"/>
<polyline fill="none" stroke="#3a9e4e" stroke-width="0.9"  points="524.08,221.89 524.54,221.71 524.62,221.68 525.04,221.45 525.15,221.41 525.77,221.04 525.91,220.97 526.51,220.38 527.25,219.65 529.63,216.43 530.42,215.62 550.97,187.06 553.86,184.09 559.68,180.31 576.65,171.41 593.15,164.82 649.17,144.51 660.26,141.49 666.61,139.52"/>
<circle cx="559.68" cy="183.58" r="1.8599999999999999" fill="#fff"/>
<path d="M559.68,181.72 A1.8599999999999999,1.8599999999999999 0 0 1 559.68,185.44 Z" fill="#000"/>
<circle cx="559.68" cy="183.58" r="1.8599999999999999" fill="none" stroke="#000" stroke-width="0.8"/>
<circle cx="576.65" cy="165.54" r="1.8599999999999999" fill="#fff"/>
<path d="M576.65,163.68 A1.8599999999999999,1.8599999999999999 0 0 1 576.65,167.4 Z" fill="#000"/>
<circle cx="576.65" cy="165.54" r="1.8599999999999999" fill="none" stroke="#000" stroke-width="0.8"/>
<circle cx="593.15" cy="155.22" r="1.8599999999999999" fill="#fff"/>
<path d="M593.15,153.36 A1.8599999999999999,1.8599999999999999 0 0 1 593.15,157.08 Z" fill="#000"/>
<circle cx="593.15" cy="155.22" r="1.8599999999999999" fill="none" stroke="#000" stroke-width="0.8"/>
<circle cx="649.17" cy="123.38" r="1.8599999999999999" fill="#fff"/>
<path d="M649.17,121.52 A1.8599999999999999,1.8599999999999999 0 0 1 649.17,125.24 Z" fill="#000"/>
<circle cx="649.17" cy="123.38" r="1.8599999999999999" fill="none" stroke="#000" stroke-width="0.8"/>
<circle cx="660.26" cy="120.8" r="1.8599999999999999" fill="#fff"/>
<path d="M660.26,118.94 A1.8599999999999999,1.8599999999999999 0 0 1 660.26,122.66 Z" fill="#000"/>
<circle cx="660.26" cy="120.8" r="1.8599999999999999" fill="none" stroke="#000" stroke-width="0.8"/>
<circle cx="666.61" cy="115.41" r="1.8599999999999999" fill="#fff"/>
<path d="M666.61,113.55 A1.8599999999999999,1.8599999999999999 0 0 1 666.61,117.27 Z" fill="#000"/>
<circle cx="666.61" cy="115.41" r="1.8599999999999999" fill="none" stroke="#000" stroke-width="0.8"/>
<polygon points="559.68,186.13 560.32,187.83 562.14,187.91 560.71,189.04 561.2,190.79 559.68,189.79 558.17,190.79 558.65,189.04 557.23,187.91 559.05,187.83" fill="#fff"/>
<polygon points="559.68,189.79 558.17,190.79 558.65,189.04 557.23,187.91 559.05,187.83 559.68,186.13" fill="#ff0000"/>
<polygon points="559.68,186.13 560.32,187.83 562.14,187.91 560.71,189.04 561.2,190.79 559.68,189.79 558.17,190.79 558.65,189.04 557.23,187.91 559.05,187.83" fill="none" stroke="#ff0000" stroke-width="0.7"/>
<polygon points="576.65,177.12 577.29,178.83 579.11,178.91 577.68,180.04 578.17,181.79 576.65,180.78 575.14,181.79 575.63,180.04 574.2,178.91 576.02,178.83" fill="#fff"/>
<polygon points="576.65,180.78 575.14,181.79 575.63,180.04 574.2,178.91 576.02,178.83 576.65,177.12" fill="#ff0000"/>
<polygon points="576.65,177.12 577.29,178.83 579.11,178.91 577.68,180.04 578.17,181.79 576.65,180.78 575.14,181.79 575.63,180.04 574.2,178.91 576.02,178.83" fill="none" stroke="#ff0000" stroke-width="0.7"/>
<polygon points="593.15,169.33 593.79,171.03 595.61,171.11 594.18,172.24 594.67,173.99 593.15,172.99 591.64,173.99 592.12,172.24 590.7,171.11 592.52,171.03" fill="#fff"/>
<polygon points="593.15,172.99 591.64,173.99 592.12,172.24 590.7,171.11 592.52,171.03 593.15,169.33" fill="#ff0000"/>
<polygon points="593.15,169.33 593.79,171.03 595.61,171.11 594.18,172.24 594.67,173.99 593.15,172.99 591.64,173.99 592.12,172.24 590.7,171.11 592.52,171.03" fill="none" stroke="#ff0000" stroke-width="0.7"/>
<polygon points="649.17,150.33 649.8,152.04 651.62,152.11 650.19,153.25 650.68,155 649.17,153.99 647.65,155 648.14,153.25 646.71,152.11 648.53,152.04" fill="#fff"/>
<polygon points="649.17,153.99 647.65,155 648.14,153.25 646.71,152.11 648.53,152.04 649.17,150.33" fill="#ff0000"/>
<polygon points="649.17,150.33 649.8,152.04 651.62,152.11 650.19,153.25 650.68,155 649.17,153.99 647.65,155 648.14,153.25 646.71,152.11 648.53,152.04" fill="none" stroke="#ff0000" stroke-width="0.7"/>
<polygon points="660.26,146.93 660.89,148.63 662.71,148.71 661.28,149.84 661.77,151.59 660.26,150.59 658.74,151.59 659.23,149.84 657.8,148.71 659.62,148.63" fill="#fff"/>
<polygon points="660.26,150.59 658.74,151.59 659.23,149.84 657.8,148.71 659.62,148.63 660.26,146.93" fill="#ff0000"/>
<polygon points="660.26,146.93 660.89,148.63 662.71,148.71 661.28,149.84 661.77,151.59 660.26,150.59 658.74,151.59 659.23,149.84 657.8,148.71 659.62,148.63" fill="none" stroke="#ff0000" stroke-width="0.7"/>
<polygon points="666.61,144.9 667.24,146.6 669.06,146.68 667.64,147.81 668.13,149.56 666.61,148.56 665.09,149.56 665.58,147.81 664.16,146.68 665.97,146.6" fill="#fff"/>
<polygon points="666.61,148.56 665.09,149.56 665.58,147.81 664.16,146.68 665.97,146.6 666.61,144.9" fill="#ff0000"/>
<polygon points="666.61,144.9 667.24,146.6 669.06,146.68 667.64,147.81 668.13,149.56 666.61,148.56 665.09,149.56 665.58,147.81 664.16,146.68 665.97,146.6" fill="none" stroke="#ff0000" stroke-width="0.7"/>
<circle cx="559.68" cy="183.93" r="2.34" fill="url(#gblu)"/>
<circle cx="576.65" cy="174.32" r="2.34" fill="url(#gblu)"/>
<circle cx="593.15" cy="167.19" r="2.34" fill="url(#gblu)"/>
<circle cx="649.17" cy="147.48" r="2.34" fill="url(#gblu)"/>
<circle cx="660.26" cy="145.99" r="2.34" fill="url(#gblu)"/>
<circle cx="666.61" cy="142.48" r="2.34" fill="url(#gblu)"/>
<circle cx="559.68" cy="177.36" r="1.8599999999999999" fill="#fffff0"/>
<path d="M557.82,177.36 A1.8599999999999999,1.8599999999999999 0 0 1 561.54,177.36 Z" fill="#8c8c30"/>
<circle cx="559.68" cy="177.36" r="1.8599999999999999" fill="none" stroke="#8c8c30" stroke-width="0.8"/>
<circle cx="576.65" cy="167.37" r="1.8599999999999999" fill="#fffff0"/>
<path d="M574.79,167.37 A1.8599999999999999,1.8599999999999999 0 0 1 578.51,167.37 Z" fill="#8c8c30"/>
<circle cx="576.65" cy="167.37" r="1.8599999999999999" fill="none" stroke="#8c8c30" stroke-width="0.8"/>
<circle cx="593.15" cy="159.58" r="1.8599999999999999" fill="#fffff0"/>
<path d="M591.29,159.58 A1.8599999999999999,1.8599999999999999 0 0 1 595.01,159.58 Z" fill="#8c8c30"/>
<circle cx="593.15" cy="159.58" r="1.8599999999999999" fill="none" stroke="#8c8c30" stroke-width="0.8"/>
<circle cx="649.17" cy="137.98" r="1.8599999999999999" fill="#fffff0"/>
<path d="M647.31,137.98 A1.8599999999999999,1.8599999999999999 0 0 1 651.03,137.98 Z" fill="#8c8c30"/>
<circle cx="649.17" cy="137.98" r="1.8599999999999999" fill="none" stroke="#8c8c30" stroke-width="0.8"/>
<circle cx="660.26" cy="134.47" r="1.8599999999999999" fill="#fffff0"/>
<path d="M658.4,134.47 A1.8599999999999999,1.8599999999999999 0 0 1 662.12,134.47 Z" fill="#8c8c30"/>
<circle cx="660.26" cy="134.47" r="1.8599999999999999" fill="none" stroke="#8c8c30" stroke-width="0.8"/>
<circle cx="666.61" cy="132.76" r="1.8599999999999999" fill="#fffff0"/>
<path d="M664.75,132.76 A1.8599999999999999,1.8599999999999999 0 0 1 668.47,132.76 Z" fill="#8c8c30"/>
<circle cx="666.61" cy="132.76" r="1.8599999999999999" fill="none" stroke="#8c8c30" stroke-width="0.8"/>
<polygon points="557.4,175.24 561.96,175.24 559.68,178.84" fill="#fff"/>
<polygon points="559.68,175.24 561.96,175.24 559.68,178.84" fill="#a00000"/>
<polygon points="557.4,175.24 561.96,175.24 559.68,178.84" fill="none" stroke="#a00000" stroke-width="0.8" stroke-linejoin="miter"/>
<polygon points="574.37,166.35 578.93,166.35 576.65,169.95" fill="#fff"/>
<polygon points="576.65,166.35 578.93,166.35 576.65,169.95" fill="#a00000"/>
<polygon points="574.37,166.35 578.93,166.35 576.65,169.95" fill="none" stroke="#a00000" stroke-width="0.8" stroke-linejoin="miter"/>
<polygon points="590.87,159.76 595.43,159.76 593.15,163.36" fill="#fff"/>
<polygon points="593.15,159.76 595.43,159.76 593.15,163.36" fill="#a00000"/>
<polygon points="590.87,159.76 595.43,159.76 593.15,163.36" fill="none" stroke="#a00000" stroke-width="0.8" stroke-linejoin="miter"/>
<polygon points="646.89,138.95 651.45,138.95 649.17,142.55" fill="#fff"/>
<polygon points="649.17,138.95 651.45,138.95 649.17,142.55" fill="#a00000"/>
<polygon points="646.89,138.95 651.45,138.95 649.17,142.55" fill="none" stroke="#a00000" stroke-width="0.8" stroke-linejoin="miter"/>
<polygon points="657.98,135.55 662.54,135.55 660.26,139.15" fill="#fff"/>
<polygon points="660.26,135.55 662.54,135.55 660.26,139.15" fill="#a00000"/>
<polygon points="657.98,135.55 662.54,135.55 660.26,139.15" fill="none" stroke="#a00000" stroke-width="0.8" stroke-linejoin="miter"/>
<polygon points="664.33,133.57 668.89,133.57 666.61,137.17" fill="#fff"/>
<polygon points="666.61,133.57 668.89,133.57 666.61,137.17" fill="#a00000"/>
<polygon points="664.33,133.57 668.89,133.57 666.61,137.17" fill="none" stroke="#a00000" stroke-width="0.8" stroke-linejoin="miter"/>
<circle cx="559.68" cy="210.8" r="2.1" fill="#fdf6fb" fill-opacity="0.55" stroke="#9030e8" stroke-width="0.75"/>
<line x1="557.58" y1="210.8" x2="561.78" y2="210.8" stroke="#9030e8" stroke-width="0.75" />
<line x1="559.68" y1="208.7" x2="559.68" y2="212.9" stroke="#9030e8" stroke-width="0.75" />
<circle cx="576.65" cy="200.89" r="2.1" fill="#fdf6fb" fill-opacity="0.55" stroke="#9030e8" stroke-width="0.75"/>
<line x1="574.55" y1="200.89" x2="578.75" y2="200.89" stroke="#9030e8" stroke-width="0.75" />
<line x1="576.65" y1="198.79" x2="576.65" y2="202.99" stroke="#9030e8" stroke-width="0.75" />
<circle cx="593.15" cy="191.89" r="2.1" fill="#fdf6fb" fill-opacity="0.55" stroke="#9030e8" stroke-width="0.75"/>
<line x1="591.05" y1="191.89" x2="595.25" y2="191.89" stroke="#9030e8" stroke-width="0.75" />
<line x1="593.15" y1="189.79" x2="593.15" y2="193.99" stroke="#9030e8" stroke-width="0.75" />
<circle cx="649.17" cy="167.51" r="2.1" fill="#fdf6fb" fill-opacity="0.55" stroke="#9030e8" stroke-width="0.75"/>
<line x1="647.07" y1="167.51" x2="651.27" y2="167.51" stroke="#9030e8" stroke-width="0.75" />
<line x1="649.17" y1="165.41" x2="649.17" y2="169.61" stroke="#9030e8" stroke-width="0.75" />
<circle cx="660.26" cy="164" r="2.1" fill="#fdf6fb" fill-opacity="0.55" stroke="#9030e8" stroke-width="0.75"/>
<line x1="658.16" y1="164" x2="662.36" y2="164" stroke="#9030e8" stroke-width="0.75" />
<line x1="660.26" y1="161.9" x2="660.26" y2="166.1" stroke="#9030e8" stroke-width="0.75" />
<circle cx="666.61" cy="162.19" r="2.1" fill="#fdf6fb" fill-opacity="0.55" stroke="#9030e8" stroke-width="0.75"/>
<line x1="664.51" y1="162.19" x2="668.71" y2="162.19" stroke="#9030e8" stroke-width="0.75" />
<line x1="666.61" y1="160.09" x2="666.61" y2="164.29" stroke="#9030e8" stroke-width="0.75" />
<polygon points="559.68,178 561.96,181.84 557.4,181.84" fill="none" stroke="#2a8a3a" stroke-width="0.6" stroke-linejoin="miter"/>
<line x1="559.68" y1="178" x2="559.68" y2="181.99" stroke="#2a8a3a" stroke-width="0.6" />
<polygon points="576.65,169.11 578.93,172.95 574.37,172.95" fill="none" stroke="#2a8a3a" stroke-width="0.6" stroke-linejoin="miter"/>
<line x1="576.65" y1="169.11" x2="576.65" y2="173.09" stroke="#2a8a3a" stroke-width="0.6" />
<polygon points="593.15,162.52 595.43,166.36 590.87,166.36" fill="none" stroke="#2a8a3a" stroke-width="0.6" stroke-linejoin="miter"/>
<line x1="593.15" y1="162.52" x2="593.15" y2="166.5" stroke="#2a8a3a" stroke-width="0.6" />
<polygon points="649.17,142.21 651.45,146.05 646.89,146.05" fill="none" stroke="#2a8a3a" stroke-width="0.6" stroke-linejoin="miter"/>
<line x1="649.17" y1="142.21" x2="649.17" y2="146.19" stroke="#2a8a3a" stroke-width="0.6" />
<polygon points="660.26,139.19 662.54,143.03 657.98,143.03" fill="none" stroke="#2a8a3a" stroke-width="0.6" stroke-linejoin="miter"/>
<line x1="660.26" y1="139.19" x2="660.26" y2="143.17" stroke="#2a8a3a" stroke-width="0.6" />
<polygon points="666.61,137.21 668.89,141.05 664.33,141.05" fill="none" stroke="#2a8a3a" stroke-width="0.6" stroke-linejoin="miter"/>
<line x1="666.61" y1="137.21" x2="666.61" y2="141.2" stroke="#2a8a3a" stroke-width="0.6" />
</g>
<path d="M558.2,112.2 L674.3,112.2 L674.3,205.5" fill="none" stroke="#777" stroke-width="1.1"/>
<path d="M558.2,112.2 L558.2,205.5 L674.3,205.5" fill="none" stroke="#222" stroke-width="1.1"/>
<line x1="555.7" y1="200.4" x2="558.2" y2="200.4" stroke="#000" stroke-width="0.9" />
<text x="555" y="202.5" font-size="6" font-weight="bold" font-style="normal" text-anchor="end" fill="#000" >0.4</text>
<line x1="555.7" y1="178.44" x2="558.2" y2="178.44" stroke="#000" stroke-width="0.9" />
<text x="555" y="180.54" font-size="6" font-weight="bold" font-style="normal" text-anchor="end" fill="#000" >0.8</text>
<line x1="555.7" y1="156.48" x2="558.2" y2="156.48" stroke="#000" stroke-width="0.9" />
<text x="555" y="158.58" font-size="6" font-weight="bold" font-style="normal" text-anchor="end" fill="#000" >1.2</text>
<line x1="555.7" y1="134.52" x2="558.2" y2="134.52" stroke="#000" stroke-width="0.9" />
<text x="555" y="136.62" font-size="6" font-weight="bold" font-style="normal" text-anchor="end" fill="#000" >1.6</text>
<line x1="555.7" y1="112.56" x2="558.2" y2="112.56" stroke="#000" stroke-width="0.9" />
<text x="555" y="114.66" font-size="6" font-weight="bold" font-style="normal" text-anchor="end" fill="#000" >2.0</text>
<line x1="556.7" y1="189.42" x2="558.2" y2="189.42" stroke="#000" stroke-width="0.7" />
<line x1="556.7" y1="167.46" x2="558.2" y2="167.46" stroke="#000" stroke-width="0.7" />
<line x1="556.7" y1="145.5" x2="558.2" y2="145.5" stroke="#000" stroke-width="0.7" />
<line x1="556.7" y1="123.54" x2="558.2" y2="123.54" stroke="#000" stroke-width="0.7" />
<line x1="564.5" y1="205.5" x2="564.5" y2="207.7" stroke="#000" stroke-width="0.9" />
<text x="564.5" y="212.7" font-size="6" font-weight="bold" font-style="normal" text-anchor="middle" fill="#000" >400</text>
<line x1="586.4" y1="205.5" x2="586.4" y2="207.7" stroke="#000" stroke-width="0.9" />
<text x="586.4" y="212.7" font-size="6" font-weight="bold" font-style="normal" text-anchor="middle" fill="#000" >600</text>
<line x1="608.3" y1="205.5" x2="608.3" y2="207.7" stroke="#000" stroke-width="0.9" />
<text x="608.3" y="212.7" font-size="6" font-weight="bold" font-style="normal" text-anchor="middle" fill="#000" >800</text>
<line x1="630.2" y1="205.5" x2="630.2" y2="207.7" stroke="#000" stroke-width="0.9" />
<text x="630.2" y="212.7" font-size="6" font-weight="bold" font-style="normal" text-anchor="middle" fill="#000" >1000</text>
<line x1="652.1" y1="205.5" x2="652.1" y2="207.7" stroke="#000" stroke-width="0.9" />
<text x="652.1" y="212.7" font-size="6" font-weight="bold" font-style="normal" text-anchor="middle" fill="#000" >1200</text>
<line x1="674" y1="205.5" x2="674" y2="207.7" stroke="#000" stroke-width="0.9" />
<text x="674" y="212.7" font-size="6" font-weight="bold" font-style="normal" text-anchor="middle" fill="#000" >1400</text>
<line x1="575.45" y1="205.5" x2="575.45" y2="206.8" stroke="#000" stroke-width="0.7" />
<line x1="597.35" y1="205.5" x2="597.35" y2="206.8" stroke="#000" stroke-width="0.7" />
<line x1="619.25" y1="205.5" x2="619.25" y2="206.8" stroke="#000" stroke-width="0.7" />
<line x1="641.15" y1="205.5" x2="641.15" y2="206.8" stroke="#000" stroke-width="0.7" />
<line x1="663.05" y1="205.5" x2="663.05" y2="206.8" stroke="#000" stroke-width="0.7" />
</svg>
</body></html>
